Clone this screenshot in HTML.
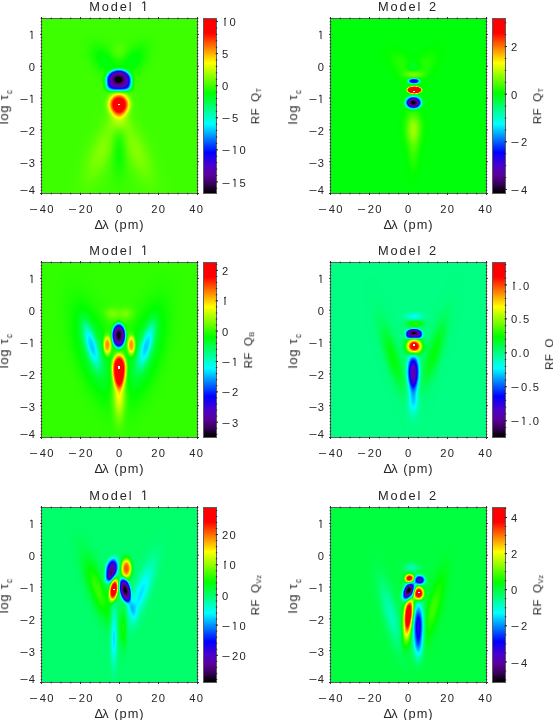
<!DOCTYPE html>
<html><head><meta charset="utf-8"><style>
html,body{margin:0;padding:0;background:#fff;}
body{width:553px;height:720px;overflow:hidden;position:relative;font-family:"Liberation Sans",sans-serif;}
.t{position:absolute;white-space:nowrap;color:#262626;will-change:transform;}
.rot{transform:rotate(-90deg) translate(-50%,-84.65%);transform-origin:0 0;}
sub{font-size:66%;vertical-align:baseline;position:relative;top:0.42em;letter-spacing:0.3px;}
sub.s2{font-size:62%;top:0.3em;}
.one{display:inline-block;width:0.556em;text-align:center;letter-spacing:0;margin-right:1.3px;position:relative;}
.one::before{content:'';position:absolute;left:calc(50% - 0.14em);top:0.11em;width:0.2em;height:0.075em;background:currentColor;transform:rotate(-38deg);}
.mi{display:inline-block;transform:scaleX(1.3);margin:0 1.6px 0 0.5px;}
.rot{line-height:1;}
.mi2{margin-right:0.3px;}
canvas{position:absolute;}
.cb{position:absolute;width:14px;height:176px;}
svg{position:absolute;left:0;top:0;}
#w{position:absolute;left:0;top:0;width:553px;height:720px;filter:blur(0.35px);}
</style></head><body><div id="w">
<svg class="fb" width="553" height="720"><defs><clipPath id="k0"><rect x="42" y="19" width="155" height="174"/></clipPath><radialGradient id="g0"><stop offset="0.000" stop-color="rgb(94, 255, 0)" stop-opacity="0.73"/><stop offset="0.083" stop-color="rgb(94, 255, 0)" stop-opacity="0.72"/><stop offset="0.167" stop-color="rgb(91, 255, 0)" stop-opacity="0.67"/><stop offset="0.250" stop-color="rgb(88, 255, 0)" stop-opacity="0.59"/><stop offset="0.333" stop-color="rgb(84, 255, 0)" stop-opacity="0.50"/><stop offset="0.417" stop-color="rgb(80, 255, 0)" stop-opacity="0.41"/><stop offset="0.500" stop-color="rgb(76, 255, 0)" stop-opacity="0.31"/><stop offset="0.583" stop-color="rgb(72, 255, 0)" stop-opacity="0.23"/><stop offset="0.667" stop-color="rgb(69, 255, 0)" stop-opacity="0.16"/><stop offset="0.750" stop-color="rgb(67, 255, 0)" stop-opacity="0.11"/><stop offset="0.833" stop-color="rgb(65, 255, 0)" stop-opacity="0.07"/><stop offset="0.917" stop-color="rgb(64, 255, 0)" stop-opacity="0.04"/><stop offset="1.000" stop-color="rgb(63, 255, 0)" stop-opacity="0.02"/></radialGradient><radialGradient id="g1"><stop offset="0.000" stop-color="rgb(116, 255, 0)" stop-opacity="1.00"/><stop offset="0.083" stop-color="rgb(115, 255, 0)" stop-opacity="1.00"/><stop offset="0.167" stop-color="rgb(111, 255, 0)" stop-opacity="1.00"/><stop offset="0.250" stop-color="rgb(106, 255, 0)" stop-opacity="0.99"/><stop offset="0.333" stop-color="rgb(99, 255, 0)" stop-opacity="0.84"/><stop offset="0.417" stop-color="rgb(92, 255, 0)" stop-opacity="0.68"/><stop offset="0.500" stop-color="rgb(85, 255, 0)" stop-opacity="0.52"/><stop offset="0.583" stop-color="rgb(79, 255, 0)" stop-opacity="0.39"/><stop offset="0.667" stop-color="rgb(74, 255, 0)" stop-opacity="0.27"/><stop offset="0.750" stop-color="rgb(70, 255, 0)" stop-opacity="0.18"/><stop offset="0.833" stop-color="rgb(67, 255, 0)" stop-opacity="0.12"/><stop offset="0.917" stop-color="rgb(65, 255, 0)" stop-opacity="0.07"/><stop offset="1.000" stop-color="rgb(64, 255, 0)" stop-opacity="0.04"/></radialGradient><radialGradient id="g2"><stop offset="0.000" stop-color="rgb(132, 255, 0)" stop-opacity="1.00"/><stop offset="0.083" stop-color="rgb(131, 255, 0)" stop-opacity="1.00"/><stop offset="0.167" stop-color="rgb(126, 255, 0)" stop-opacity="1.00"/><stop offset="0.250" stop-color="rgb(119, 255, 0)" stop-opacity="1.00"/><stop offset="0.333" stop-color="rgb(110, 255, 0)" stop-opacity="1.00"/><stop offset="0.417" stop-color="rgb(101, 255, 0)" stop-opacity="0.88"/><stop offset="0.500" stop-color="rgb(92, 255, 0)" stop-opacity="0.68"/><stop offset="0.583" stop-color="rgb(84, 255, 0)" stop-opacity="0.50"/><stop offset="0.667" stop-color="rgb(77, 255, 0)" stop-opacity="0.35"/><stop offset="0.750" stop-color="rgb(72, 255, 0)" stop-opacity="0.24"/><stop offset="0.833" stop-color="rgb(68, 255, 0)" stop-opacity="0.15"/><stop offset="0.917" stop-color="rgb(66, 255, 0)" stop-opacity="0.09"/><stop offset="1.000" stop-color="rgb(64, 255, 0)" stop-opacity="0.05"/></radialGradient><radialGradient id="g3"><stop offset="0.000" stop-color="rgb(132, 255, 0)" stop-opacity="1.00"/><stop offset="0.083" stop-color="rgb(131, 255, 0)" stop-opacity="1.00"/><stop offset="0.167" stop-color="rgb(126, 255, 0)" stop-opacity="1.00"/><stop offset="0.250" stop-color="rgb(119, 255, 0)" stop-opacity="1.00"/><stop offset="0.333" stop-color="rgb(110, 255, 0)" stop-opacity="1.00"/><stop offset="0.417" stop-color="rgb(101, 255, 0)" stop-opacity="0.88"/><stop offset="0.500" stop-color="rgb(92, 255, 0)" stop-opacity="0.68"/><stop offset="0.583" stop-color="rgb(84, 255, 0)" stop-opacity="0.50"/><stop offset="0.667" stop-color="rgb(77, 255, 0)" stop-opacity="0.35"/><stop offset="0.750" stop-color="rgb(72, 255, 0)" stop-opacity="0.24"/><stop offset="0.833" stop-color="rgb(68, 255, 0)" stop-opacity="0.15"/><stop offset="0.917" stop-color="rgb(66, 255, 0)" stop-opacity="0.09"/><stop offset="1.000" stop-color="rgb(64, 255, 0)" stop-opacity="0.05"/></radialGradient><radialGradient id="g4"><stop offset="0.000" stop-color="rgb(0, 255, 9)" stop-opacity="1.00"/><stop offset="0.083" stop-color="rgb(0, 255, 7)" stop-opacity="1.00"/><stop offset="0.167" stop-color="rgb(0, 255, 2)" stop-opacity="1.00"/><stop offset="0.250" stop-color="rgb(5, 255, 0)" stop-opacity="1.00"/><stop offset="0.333" stop-color="rgb(13, 255, 0)" stop-opacity="1.00"/><stop offset="0.417" stop-color="rgb(22, 255, 0)" stop-opacity="0.88"/><stop offset="0.500" stop-color="rgb(31, 255, 0)" stop-opacity="0.68"/><stop offset="0.583" stop-color="rgb(39, 255, 0)" stop-opacity="0.50"/><stop offset="0.667" stop-color="rgb(46, 255, 0)" stop-opacity="0.35"/><stop offset="0.750" stop-color="rgb(51, 255, 0)" stop-opacity="0.24"/><stop offset="0.833" stop-color="rgb(55, 255, 0)" stop-opacity="0.15"/><stop offset="0.917" stop-color="rgb(58, 255, 0)" stop-opacity="0.09"/><stop offset="1.000" stop-color="rgb(59, 255, 0)" stop-opacity="0.05"/></radialGradient><radialGradient id="g5"><stop offset="0.000" stop-color="rgb(0, 255, 14)" stop-opacity="1.00"/><stop offset="0.083" stop-color="rgb(0, 255, 12)" stop-opacity="1.00"/><stop offset="0.167" stop-color="rgb(0, 255, 7)" stop-opacity="1.00"/><stop offset="0.250" stop-color="rgb(0, 255, 0)" stop-opacity="1.00"/><stop offset="0.333" stop-color="rgb(10, 255, 0)" stop-opacity="1.00"/><stop offset="0.417" stop-color="rgb(19, 255, 0)" stop-opacity="0.95"/><stop offset="0.500" stop-color="rgb(29, 255, 0)" stop-opacity="0.73"/><stop offset="0.583" stop-color="rgb(38, 255, 0)" stop-opacity="0.54"/><stop offset="0.667" stop-color="rgb(45, 255, 0)" stop-opacity="0.38"/><stop offset="0.750" stop-color="rgb(50, 255, 0)" stop-opacity="0.26"/><stop offset="0.833" stop-color="rgb(54, 255, 0)" stop-opacity="0.16"/><stop offset="0.917" stop-color="rgb(57, 255, 0)" stop-opacity="0.10"/><stop offset="1.000" stop-color="rgb(59, 255, 0)" stop-opacity="0.06"/></radialGradient><radialGradient id="g6"><stop offset="0.000" stop-color="rgb(0, 255, 14)" stop-opacity="1.00"/><stop offset="0.083" stop-color="rgb(0, 255, 12)" stop-opacity="1.00"/><stop offset="0.167" stop-color="rgb(0, 255, 7)" stop-opacity="1.00"/><stop offset="0.250" stop-color="rgb(0, 255, 0)" stop-opacity="1.00"/><stop offset="0.333" stop-color="rgb(10, 255, 0)" stop-opacity="1.00"/><stop offset="0.417" stop-color="rgb(19, 255, 0)" stop-opacity="0.95"/><stop offset="0.500" stop-color="rgb(29, 255, 0)" stop-opacity="0.73"/><stop offset="0.583" stop-color="rgb(38, 255, 0)" stop-opacity="0.54"/><stop offset="0.667" stop-color="rgb(45, 255, 0)" stop-opacity="0.38"/><stop offset="0.750" stop-color="rgb(50, 255, 0)" stop-opacity="0.26"/><stop offset="0.833" stop-color="rgb(54, 255, 0)" stop-opacity="0.16"/><stop offset="0.917" stop-color="rgb(57, 255, 0)" stop-opacity="0.10"/><stop offset="1.000" stop-color="rgb(59, 255, 0)" stop-opacity="0.06"/></radialGradient><radialGradient id="g7"><stop offset="0.000" stop-color="rgb(143, 255, 0)" stop-opacity="1.00"/><stop offset="0.083" stop-color="rgb(141, 255, 0)" stop-opacity="1.00"/><stop offset="0.167" stop-color="rgb(136, 255, 0)" stop-opacity="1.00"/><stop offset="0.250" stop-color="rgb(128, 255, 0)" stop-opacity="1.00"/><stop offset="0.333" stop-color="rgb(118, 255, 0)" stop-opacity="1.00"/><stop offset="0.417" stop-color="rgb(107, 255, 0)" stop-opacity="1.00"/><stop offset="0.500" stop-color="rgb(97, 255, 0)" stop-opacity="0.79"/><stop offset="0.583" stop-color="rgb(87, 255, 0)" stop-opacity="0.58"/><stop offset="0.667" stop-color="rgb(80, 255, 0)" stop-opacity="0.41"/><stop offset="0.750" stop-color="rgb(74, 255, 0)" stop-opacity="0.27"/><stop offset="0.833" stop-color="rgb(69, 255, 0)" stop-opacity="0.18"/><stop offset="0.917" stop-color="rgb(66, 255, 0)" stop-opacity="0.11"/><stop offset="1.000" stop-color="rgb(64, 255, 0)" stop-opacity="0.06"/></radialGradient><radialGradient id="g8"><stop offset="0.000" stop-color="rgb(0, 255, 150)" stop-opacity="1.00"/><stop offset="0.083" stop-color="rgb(0, 255, 145)" stop-opacity="1.00"/><stop offset="0.167" stop-color="rgb(0, 255, 131)" stop-opacity="1.00"/><stop offset="0.250" stop-color="rgb(0, 255, 110)" stop-opacity="1.00"/><stop offset="0.333" stop-color="rgb(0, 255, 85)" stop-opacity="1.00"/><stop offset="0.417" stop-color="rgb(0, 255, 57)" stop-opacity="1.00"/><stop offset="0.500" stop-color="rgb(0, 255, 31)" stop-opacity="1.00"/><stop offset="0.583" stop-color="rgb(0, 255, 7)" stop-opacity="1.00"/><stop offset="0.667" stop-color="rgb(13, 255, 0)" stop-opacity="1.00"/><stop offset="0.750" stop-color="rgb(29, 255, 0)" stop-opacity="0.73"/><stop offset="0.833" stop-color="rgb(41, 255, 0)" stop-opacity="0.47"/><stop offset="0.917" stop-color="rgb(49, 255, 0)" stop-opacity="0.29"/><stop offset="1.000" stop-color="rgb(54, 255, 0)" stop-opacity="0.17"/></radialGradient><radialGradient id="g9"><stop offset="0.000" stop-color="rgb(255, 0, 0)" stop-opacity="1.00"/><stop offset="0.083" stop-color="rgb(255, 0, 0)" stop-opacity="1.00"/><stop offset="0.167" stop-color="rgb(255, 0, 0)" stop-opacity="1.00"/><stop offset="0.250" stop-color="rgb(255, 0, 0)" stop-opacity="1.00"/><stop offset="0.333" stop-color="rgb(255, 33, 0)" stop-opacity="1.00"/><stop offset="0.417" stop-color="rgb(255, 142, 0)" stop-opacity="1.00"/><stop offset="0.500" stop-color="rgb(255, 254, 0)" stop-opacity="1.00"/><stop offset="0.583" stop-color="rgb(166, 255, 0)" stop-opacity="1.00"/><stop offset="0.667" stop-color="rgb(108, 255, 0)" stop-opacity="0.93"/><stop offset="0.750" stop-color="rgb(79, 255, 0)" stop-opacity="0.31"/><stop offset="0.833" stop-color="rgb(68, 255, 0)" stop-opacity="0.08"/><stop offset="0.917" stop-color="rgb(64, 255, 0)" stop-opacity="0.01"/><stop offset="1.000" stop-color="rgb(63, 255, 0)" stop-opacity="0.00"/></radialGradient><radialGradient id="g10"><stop offset="0.000" stop-color="rgb(0, 0, 0)" stop-opacity="1.00"/><stop offset="0.083" stop-color="rgb(4, 0, 6)" stop-opacity="1.00"/><stop offset="0.167" stop-color="rgb(63, 0, 105)" stop-opacity="1.00"/><stop offset="0.250" stop-color="rgb(85, 0, 172)" stop-opacity="1.00"/><stop offset="0.333" stop-color="rgb(20, 0, 242)" stop-opacity="1.00"/><stop offset="0.417" stop-color="rgb(0, 250, 255)" stop-opacity="1.00"/><stop offset="0.500" stop-color="rgb(0, 255, 12)" stop-opacity="1.00"/><stop offset="0.583" stop-color="rgb(52, 255, 0)" stop-opacity="0.04"/><stop offset="0.667" stop-color="rgb(57, 255, 0)" stop-opacity="0.00"/><stop offset="0.750" stop-color="rgb(59, 255, 0)" stop-opacity="0.00"/><stop offset="0.833" stop-color="rgb(60, 255, 0)" stop-opacity="0.00"/><stop offset="0.917" stop-color="rgb(61, 255, 0)" stop-opacity="0.00"/><stop offset="1.000" stop-color="rgb(61, 255, 0)" stop-opacity="0.00"/></radialGradient><clipPath id="k1"><rect x="331" y="19" width="155" height="174"/></clipPath><radialGradient id="g11"><stop offset="0.000" stop-color="rgb(40, 255, 0)" stop-opacity="1.00"/><stop offset="0.083" stop-color="rgb(39, 255, 0)" stop-opacity="1.00"/><stop offset="0.167" stop-color="rgb(35, 255, 0)" stop-opacity="1.00"/><stop offset="0.250" stop-color="rgb(30, 255, 0)" stop-opacity="0.92"/><stop offset="0.333" stop-color="rgb(24, 255, 0)" stop-opacity="0.78"/><stop offset="0.417" stop-color="rgb(18, 255, 0)" stop-opacity="0.63"/><stop offset="0.500" stop-color="rgb(11, 255, 0)" stop-opacity="0.49"/><stop offset="0.583" stop-color="rgb(5, 255, 0)" stop-opacity="0.36"/><stop offset="0.667" stop-color="rgb(1, 255, 0)" stop-opacity="0.25"/><stop offset="0.750" stop-color="rgb(0, 255, 3)" stop-opacity="0.17"/><stop offset="0.833" stop-color="rgb(0, 255, 5)" stop-opacity="0.11"/><stop offset="0.917" stop-color="rgb(0, 255, 7)" stop-opacity="0.07"/><stop offset="1.000" stop-color="rgb(0, 255, 8)" stop-opacity="0.04"/></radialGradient><radialGradient id="g12"><stop offset="0.000" stop-color="rgb(40, 255, 0)" stop-opacity="1.00"/><stop offset="0.083" stop-color="rgb(39, 255, 0)" stop-opacity="1.00"/><stop offset="0.167" stop-color="rgb(35, 255, 0)" stop-opacity="1.00"/><stop offset="0.250" stop-color="rgb(30, 255, 0)" stop-opacity="0.92"/><stop offset="0.333" stop-color="rgb(24, 255, 0)" stop-opacity="0.78"/><stop offset="0.417" stop-color="rgb(18, 255, 0)" stop-opacity="0.63"/><stop offset="0.500" stop-color="rgb(11, 255, 0)" stop-opacity="0.49"/><stop offset="0.583" stop-color="rgb(5, 255, 0)" stop-opacity="0.36"/><stop offset="0.667" stop-color="rgb(1, 255, 0)" stop-opacity="0.25"/><stop offset="0.750" stop-color="rgb(0, 255, 3)" stop-opacity="0.17"/><stop offset="0.833" stop-color="rgb(0, 255, 5)" stop-opacity="0.11"/><stop offset="0.917" stop-color="rgb(0, 255, 7)" stop-opacity="0.07"/><stop offset="1.000" stop-color="rgb(0, 255, 8)" stop-opacity="0.04"/></radialGradient><radialGradient id="g13"><stop offset="0.000" stop-color="rgb(50, 255, 0)" stop-opacity="1.00"/><stop offset="0.083" stop-color="rgb(49, 255, 0)" stop-opacity="1.00"/><stop offset="0.167" stop-color="rgb(45, 255, 0)" stop-opacity="1.00"/><stop offset="0.250" stop-color="rgb(38, 255, 0)" stop-opacity="1.00"/><stop offset="0.333" stop-color="rgb(31, 255, 0)" stop-opacity="0.93"/><stop offset="0.417" stop-color="rgb(23, 255, 0)" stop-opacity="0.76"/><stop offset="0.500" stop-color="rgb(15, 255, 0)" stop-opacity="0.58"/><stop offset="0.583" stop-color="rgb(9, 255, 0)" stop-opacity="0.43"/><stop offset="0.667" stop-color="rgb(3, 255, 0)" stop-opacity="0.30"/><stop offset="0.750" stop-color="rgb(0, 255, 1)" stop-opacity="0.20"/><stop offset="0.833" stop-color="rgb(0, 255, 5)" stop-opacity="0.13"/><stop offset="0.917" stop-color="rgb(0, 255, 7)" stop-opacity="0.08"/><stop offset="1.000" stop-color="rgb(0, 255, 8)" stop-opacity="0.05"/></radialGradient><radialGradient id="g14"><stop offset="0.000" stop-color="rgb(0, 255, 78)" stop-opacity="1.00"/><stop offset="0.083" stop-color="rgb(0, 255, 77)" stop-opacity="1.00"/><stop offset="0.167" stop-color="rgb(0, 255, 72)" stop-opacity="1.00"/><stop offset="0.250" stop-color="rgb(0, 255, 65)" stop-opacity="1.00"/><stop offset="0.333" stop-color="rgb(0, 255, 57)" stop-opacity="1.00"/><stop offset="0.417" stop-color="rgb(0, 255, 48)" stop-opacity="0.88"/><stop offset="0.500" stop-color="rgb(0, 255, 39)" stop-opacity="0.68"/><stop offset="0.583" stop-color="rgb(0, 255, 32)" stop-opacity="0.50"/><stop offset="0.667" stop-color="rgb(0, 255, 25)" stop-opacity="0.35"/><stop offset="0.750" stop-color="rgb(0, 255, 20)" stop-opacity="0.24"/><stop offset="0.833" stop-color="rgb(0, 255, 17)" stop-opacity="0.15"/><stop offset="0.917" stop-color="rgb(0, 255, 14)" stop-opacity="0.09"/><stop offset="1.000" stop-color="rgb(0, 255, 12)" stop-opacity="0.05"/></radialGradient><radialGradient id="g15"><stop offset="0.000" stop-color="rgb(70, 255, 0)" stop-opacity="1.00"/><stop offset="0.083" stop-color="rgb(68, 255, 0)" stop-opacity="1.00"/><stop offset="0.167" stop-color="rgb(63, 255, 0)" stop-opacity="1.00"/><stop offset="0.250" stop-color="rgb(55, 255, 0)" stop-opacity="1.00"/><stop offset="0.333" stop-color="rgb(45, 255, 0)" stop-opacity="1.00"/><stop offset="0.417" stop-color="rgb(34, 255, 0)" stop-opacity="1.00"/><stop offset="0.500" stop-color="rgb(24, 255, 0)" stop-opacity="0.78"/><stop offset="0.583" stop-color="rgb(15, 255, 0)" stop-opacity="0.57"/><stop offset="0.667" stop-color="rgb(7, 255, 0)" stop-opacity="0.40"/><stop offset="0.750" stop-color="rgb(2, 255, 0)" stop-opacity="0.27"/><stop offset="0.833" stop-color="rgb(0, 255, 3)" stop-opacity="0.17"/><stop offset="0.917" stop-color="rgb(0, 255, 6)" stop-opacity="0.11"/><stop offset="1.000" stop-color="rgb(0, 255, 7)" stop-opacity="0.06"/></radialGradient><radialGradient id="g16"><stop offset="0.000" stop-color="rgb(141, 255, 0)" stop-opacity="1.00"/><stop offset="0.083" stop-color="rgb(137, 255, 0)" stop-opacity="1.00"/><stop offset="0.167" stop-color="rgb(127, 255, 0)" stop-opacity="1.00"/><stop offset="0.250" stop-color="rgb(112, 255, 0)" stop-opacity="1.00"/><stop offset="0.333" stop-color="rgb(93, 255, 0)" stop-opacity="1.00"/><stop offset="0.417" stop-color="rgb(74, 255, 0)" stop-opacity="1.00"/><stop offset="0.500" stop-color="rgb(54, 255, 0)" stop-opacity="1.00"/><stop offset="0.583" stop-color="rgb(37, 255, 0)" stop-opacity="1.00"/><stop offset="0.667" stop-color="rgb(23, 255, 0)" stop-opacity="0.76"/><stop offset="0.750" stop-color="rgb(12, 255, 0)" stop-opacity="0.51"/><stop offset="0.833" stop-color="rgb(4, 255, 0)" stop-opacity="0.32"/><stop offset="0.917" stop-color="rgb(0, 255, 2)" stop-opacity="0.20"/><stop offset="1.000" stop-color="rgb(0, 255, 5)" stop-opacity="0.12"/></radialGradient><radialGradient id="g17"><stop offset="0.000" stop-color="rgb(0, 255, 156)" stop-opacity="1.00"/><stop offset="0.083" stop-color="rgb(0, 255, 153)" stop-opacity="1.00"/><stop offset="0.167" stop-color="rgb(0, 255, 143)" stop-opacity="1.00"/><stop offset="0.250" stop-color="rgb(0, 255, 128)" stop-opacity="1.00"/><stop offset="0.333" stop-color="rgb(0, 255, 110)" stop-opacity="1.00"/><stop offset="0.417" stop-color="rgb(0, 255, 91)" stop-opacity="1.00"/><stop offset="0.500" stop-color="rgb(0, 255, 73)" stop-opacity="1.00"/><stop offset="0.583" stop-color="rgb(0, 255, 56)" stop-opacity="1.00"/><stop offset="0.667" stop-color="rgb(0, 255, 43)" stop-opacity="0.76"/><stop offset="0.750" stop-color="rgb(0, 255, 32)" stop-opacity="0.51"/><stop offset="0.833" stop-color="rgb(0, 255, 24)" stop-opacity="0.32"/><stop offset="0.917" stop-color="rgb(0, 255, 19)" stop-opacity="0.20"/><stop offset="1.000" stop-color="rgb(0, 255, 15)" stop-opacity="0.12"/></radialGradient><radialGradient id="g18"><stop offset="0.000" stop-color="rgb(27, 0, 237)" stop-opacity="1.00"/><stop offset="0.083" stop-color="rgb(27, 0, 237)" stop-opacity="1.00"/><stop offset="0.167" stop-color="rgb(21, 0, 241)" stop-opacity="1.00"/><stop offset="0.250" stop-color="rgb(0, 6, 255)" stop-opacity="1.00"/><stop offset="0.333" stop-color="rgb(0, 100, 255)" stop-opacity="1.00"/><stop offset="0.417" stop-color="rgb(0, 249, 255)" stop-opacity="1.00"/><stop offset="0.500" stop-color="rgb(0, 255, 120)" stop-opacity="1.00"/><stop offset="0.583" stop-color="rgb(0, 255, 31)" stop-opacity="0.90"/><stop offset="0.667" stop-color="rgb(0, 255, 1)" stop-opacity="0.14"/><stop offset="0.750" stop-color="rgb(3, 255, 0)" stop-opacity="0.01"/><stop offset="0.833" stop-color="rgb(1, 255, 0)" stop-opacity="0.00"/><stop offset="0.917" stop-color="rgb(0, 255, 1)" stop-opacity="0.00"/><stop offset="1.000" stop-color="rgb(0, 255, 3)" stop-opacity="0.00"/></radialGradient><radialGradient id="g19"><stop offset="0.000" stop-color="rgb(255, 0, 0)" stop-opacity="1.00"/><stop offset="0.083" stop-color="rgb(255, 0, 0)" stop-opacity="1.00"/><stop offset="0.167" stop-color="rgb(255, 0, 0)" stop-opacity="1.00"/><stop offset="0.250" stop-color="rgb(255, 0, 0)" stop-opacity="1.00"/><stop offset="0.333" stop-color="rgb(255, 0, 0)" stop-opacity="1.00"/><stop offset="0.417" stop-color="rgb(250, 255, 0)" stop-opacity="1.00"/><stop offset="0.500" stop-color="rgb(4, 255, 0)" stop-opacity="0.25"/><stop offset="0.583" stop-color="rgb(0, 255, 8)" stop-opacity="0.00"/><stop offset="0.667" stop-color="rgb(0, 255, 9)" stop-opacity="0.00"/><stop offset="0.750" stop-color="rgb(0, 255, 9)" stop-opacity="0.00"/><stop offset="0.833" stop-color="rgb(0, 255, 9)" stop-opacity="0.00"/><stop offset="0.917" stop-color="rgb(0, 255, 10)" stop-opacity="0.00"/><stop offset="1.000" stop-color="rgb(0, 255, 10)" stop-opacity="0.00"/></radialGradient><radialGradient id="g20"><stop offset="0.000" stop-color="rgb(0, 0, 0)" stop-opacity="1.00"/><stop offset="0.083" stop-color="rgb(12, 0, 20)" stop-opacity="1.00"/><stop offset="0.167" stop-color="rgb(61, 0, 101)" stop-opacity="1.00"/><stop offset="0.250" stop-color="rgb(85, 0, 172)" stop-opacity="1.00"/><stop offset="0.333" stop-color="rgb(25, 0, 238)" stop-opacity="1.00"/><stop offset="0.417" stop-color="rgb(0, 152, 255)" stop-opacity="1.00"/><stop offset="0.500" stop-color="rgb(0, 255, 170)" stop-opacity="1.00"/><stop offset="0.583" stop-color="rgb(0, 255, 56)" stop-opacity="1.00"/><stop offset="0.667" stop-color="rgb(0, 255, 16)" stop-opacity="0.17"/><stop offset="0.750" stop-color="rgb(0, 255, 10)" stop-opacity="0.01"/><stop offset="0.833" stop-color="rgb(0, 255, 10)" stop-opacity="0.00"/><stop offset="0.917" stop-color="rgb(0, 255, 10)" stop-opacity="0.00"/><stop offset="1.000" stop-color="rgb(0, 255, 10)" stop-opacity="0.00"/></radialGradient><clipPath id="k2"><rect x="42" y="263" width="155" height="174"/></clipPath><radialGradient id="g21"><stop offset="0.000" stop-color="rgb(121, 255, 0)" stop-opacity="1.00"/><stop offset="0.083" stop-color="rgb(120, 255, 0)" stop-opacity="1.00"/><stop offset="0.167" stop-color="rgb(115, 255, 0)" stop-opacity="1.00"/><stop offset="0.250" stop-color="rgb(108, 255, 0)" stop-opacity="1.00"/><stop offset="0.333" stop-color="rgb(99, 255, 0)" stop-opacity="1.00"/><stop offset="0.417" stop-color="rgb(89, 255, 0)" stop-opacity="0.90"/><stop offset="0.500" stop-color="rgb(80, 255, 0)" stop-opacity="0.69"/><stop offset="0.583" stop-color="rgb(72, 255, 0)" stop-opacity="0.51"/><stop offset="0.667" stop-color="rgb(65, 255, 0)" stop-opacity="0.36"/><stop offset="0.750" stop-color="rgb(60, 255, 0)" stop-opacity="0.24"/><stop offset="0.833" stop-color="rgb(56, 255, 0)" stop-opacity="0.15"/><stop offset="0.917" stop-color="rgb(54, 255, 0)" stop-opacity="0.09"/><stop offset="1.000" stop-color="rgb(52, 255, 0)" stop-opacity="0.06"/></radialGradient><radialGradient id="g22"><stop offset="0.000" stop-color="rgb(121, 255, 0)" stop-opacity="1.00"/><stop offset="0.083" stop-color="rgb(120, 255, 0)" stop-opacity="1.00"/><stop offset="0.167" stop-color="rgb(115, 255, 0)" stop-opacity="1.00"/><stop offset="0.250" stop-color="rgb(108, 255, 0)" stop-opacity="1.00"/><stop offset="0.333" stop-color="rgb(99, 255, 0)" stop-opacity="1.00"/><stop offset="0.417" stop-color="rgb(89, 255, 0)" stop-opacity="0.90"/><stop offset="0.500" stop-color="rgb(80, 255, 0)" stop-opacity="0.69"/><stop offset="0.583" stop-color="rgb(72, 255, 0)" stop-opacity="0.51"/><stop offset="0.667" stop-color="rgb(65, 255, 0)" stop-opacity="0.36"/><stop offset="0.750" stop-color="rgb(60, 255, 0)" stop-opacity="0.24"/><stop offset="0.833" stop-color="rgb(56, 255, 0)" stop-opacity="0.15"/><stop offset="0.917" stop-color="rgb(54, 255, 0)" stop-opacity="0.09"/><stop offset="1.000" stop-color="rgb(52, 255, 0)" stop-opacity="0.06"/></radialGradient><radialGradient id="g23"><stop offset="0.000" stop-color="rgb(126, 255, 0)" stop-opacity="1.00"/><stop offset="0.083" stop-color="rgb(125, 255, 0)" stop-opacity="1.00"/><stop offset="0.167" stop-color="rgb(120, 255, 0)" stop-opacity="1.00"/><stop offset="0.250" stop-color="rgb(112, 255, 0)" stop-opacity="1.00"/><stop offset="0.333" stop-color="rgb(102, 255, 0)" stop-opacity="1.00"/><stop offset="0.417" stop-color="rgb(92, 255, 0)" stop-opacity="0.96"/><stop offset="0.500" stop-color="rgb(83, 255, 0)" stop-opacity="0.74"/><stop offset="0.583" stop-color="rgb(74, 255, 0)" stop-opacity="0.55"/><stop offset="0.667" stop-color="rgb(67, 255, 0)" stop-opacity="0.39"/><stop offset="0.750" stop-color="rgb(61, 255, 0)" stop-opacity="0.26"/><stop offset="0.833" stop-color="rgb(57, 255, 0)" stop-opacity="0.17"/><stop offset="0.917" stop-color="rgb(54, 255, 0)" stop-opacity="0.10"/><stop offset="1.000" stop-color="rgb(52, 255, 0)" stop-opacity="0.06"/></radialGradient><radialGradient id="g24"><stop offset="0.000" stop-color="rgb(0, 255, 76)" stop-opacity="1.00"/><stop offset="0.083" stop-color="rgb(0, 255, 74)" stop-opacity="1.00"/><stop offset="0.167" stop-color="rgb(0, 255, 65)" stop-opacity="1.00"/><stop offset="0.250" stop-color="rgb(0, 255, 53)" stop-opacity="1.00"/><stop offset="0.333" stop-color="rgb(0, 255, 38)" stop-opacity="1.00"/><stop offset="0.417" stop-color="rgb(0, 255, 21)" stop-opacity="1.00"/><stop offset="0.500" stop-color="rgb(0, 255, 6)" stop-opacity="1.00"/><stop offset="0.583" stop-color="rgb(9, 255, 0)" stop-opacity="0.91"/><stop offset="0.667" stop-color="rgb(21, 255, 0)" stop-opacity="0.64"/><stop offset="0.750" stop-color="rgb(30, 255, 0)" stop-opacity="0.43"/><stop offset="0.833" stop-color="rgb(37, 255, 0)" stop-opacity="0.28"/><stop offset="0.917" stop-color="rgb(42, 255, 0)" stop-opacity="0.17"/><stop offset="1.000" stop-color="rgb(45, 255, 0)" stop-opacity="0.10"/></radialGradient><radialGradient id="g25"><stop offset="0.000" stop-color="rgb(0, 255, 76)" stop-opacity="1.00"/><stop offset="0.083" stop-color="rgb(0, 255, 74)" stop-opacity="1.00"/><stop offset="0.167" stop-color="rgb(0, 255, 65)" stop-opacity="1.00"/><stop offset="0.250" stop-color="rgb(0, 255, 53)" stop-opacity="1.00"/><stop offset="0.333" stop-color="rgb(0, 255, 38)" stop-opacity="1.00"/><stop offset="0.417" stop-color="rgb(0, 255, 21)" stop-opacity="1.00"/><stop offset="0.500" stop-color="rgb(0, 255, 6)" stop-opacity="1.00"/><stop offset="0.583" stop-color="rgb(9, 255, 0)" stop-opacity="0.91"/><stop offset="0.667" stop-color="rgb(21, 255, 0)" stop-opacity="0.64"/><stop offset="0.750" stop-color="rgb(30, 255, 0)" stop-opacity="0.43"/><stop offset="0.833" stop-color="rgb(37, 255, 0)" stop-opacity="0.28"/><stop offset="0.917" stop-color="rgb(42, 255, 0)" stop-opacity="0.17"/><stop offset="1.000" stop-color="rgb(45, 255, 0)" stop-opacity="0.10"/></radialGradient><radialGradient id="g26"><stop offset="0.000" stop-color="rgb(0, 255, 161)" stop-opacity="1.00"/><stop offset="0.083" stop-color="rgb(0, 255, 156)" stop-opacity="1.00"/><stop offset="0.167" stop-color="rgb(0, 255, 142)" stop-opacity="1.00"/><stop offset="0.250" stop-color="rgb(0, 255, 121)" stop-opacity="1.00"/><stop offset="0.333" stop-color="rgb(0, 255, 96)" stop-opacity="1.00"/><stop offset="0.417" stop-color="rgb(0, 255, 68)" stop-opacity="1.00"/><stop offset="0.500" stop-color="rgb(0, 255, 42)" stop-opacity="1.00"/><stop offset="0.583" stop-color="rgb(0, 255, 18)" stop-opacity="1.00"/><stop offset="0.667" stop-color="rgb(1, 255, 0)" stop-opacity="1.00"/><stop offset="0.750" stop-color="rgb(17, 255, 0)" stop-opacity="0.72"/><stop offset="0.833" stop-color="rgb(29, 255, 0)" stop-opacity="0.46"/><stop offset="0.917" stop-color="rgb(37, 255, 0)" stop-opacity="0.28"/><stop offset="1.000" stop-color="rgb(42, 255, 0)" stop-opacity="0.17"/></radialGradient><radialGradient id="g27"><stop offset="0.000" stop-color="rgb(255, 229, 0)" stop-opacity="1.00"/><stop offset="0.083" stop-color="rgb(255, 235, 0)" stop-opacity="1.00"/><stop offset="0.167" stop-color="rgb(255, 250, 0)" stop-opacity="1.00"/><stop offset="0.250" stop-color="rgb(237, 255, 0)" stop-opacity="1.00"/><stop offset="0.333" stop-color="rgb(208, 255, 0)" stop-opacity="1.00"/><stop offset="0.417" stop-color="rgb(178, 255, 0)" stop-opacity="1.00"/><stop offset="0.500" stop-color="rgb(149, 255, 0)" stop-opacity="1.00"/><stop offset="0.583" stop-color="rgb(123, 255, 0)" stop-opacity="1.00"/><stop offset="0.667" stop-color="rgb(101, 255, 0)" stop-opacity="1.00"/><stop offset="0.750" stop-color="rgb(84, 255, 0)" stop-opacity="0.78"/><stop offset="0.833" stop-color="rgb(72, 255, 0)" stop-opacity="0.50"/><stop offset="0.917" stop-color="rgb(63, 255, 0)" stop-opacity="0.30"/><stop offset="1.000" stop-color="rgb(57, 255, 0)" stop-opacity="0.18"/></radialGradient><radialGradient id="g28"><stop offset="0.000" stop-color="rgb(0, 255, 181)" stop-opacity="1.00"/><stop offset="0.083" stop-color="rgb(0, 255, 178)" stop-opacity="1.00"/><stop offset="0.167" stop-color="rgb(0, 255, 167)" stop-opacity="1.00"/><stop offset="0.250" stop-color="rgb(0, 255, 145)" stop-opacity="1.00"/><stop offset="0.333" stop-color="rgb(0, 255, 113)" stop-opacity="1.00"/><stop offset="0.417" stop-color="rgb(0, 255, 76)" stop-opacity="1.00"/><stop offset="0.500" stop-color="rgb(0, 255, 39)" stop-opacity="1.00"/><stop offset="0.583" stop-color="rgb(0, 255, 8)" stop-opacity="1.00"/><stop offset="0.667" stop-color="rgb(17, 255, 0)" stop-opacity="0.74"/><stop offset="0.750" stop-color="rgb(33, 255, 0)" stop-opacity="0.37"/><stop offset="0.833" stop-color="rgb(42, 255, 0)" stop-opacity="0.17"/><stop offset="0.917" stop-color="rgb(46, 255, 0)" stop-opacity="0.07"/><stop offset="1.000" stop-color="rgb(48, 255, 0)" stop-opacity="0.02"/></radialGradient><radialGradient id="g29"><stop offset="0.000" stop-color="rgb(0, 255, 181)" stop-opacity="1.00"/><stop offset="0.083" stop-color="rgb(0, 255, 178)" stop-opacity="1.00"/><stop offset="0.167" stop-color="rgb(0, 255, 167)" stop-opacity="1.00"/><stop offset="0.250" stop-color="rgb(0, 255, 145)" stop-opacity="1.00"/><stop offset="0.333" stop-color="rgb(0, 255, 113)" stop-opacity="1.00"/><stop offset="0.417" stop-color="rgb(0, 255, 76)" stop-opacity="1.00"/><stop offset="0.500" stop-color="rgb(0, 255, 39)" stop-opacity="1.00"/><stop offset="0.583" stop-color="rgb(0, 255, 8)" stop-opacity="1.00"/><stop offset="0.667" stop-color="rgb(17, 255, 0)" stop-opacity="0.74"/><stop offset="0.750" stop-color="rgb(33, 255, 0)" stop-opacity="0.37"/><stop offset="0.833" stop-color="rgb(42, 255, 0)" stop-opacity="0.17"/><stop offset="0.917" stop-color="rgb(46, 255, 0)" stop-opacity="0.07"/><stop offset="1.000" stop-color="rgb(48, 255, 0)" stop-opacity="0.02"/></radialGradient><radialGradient id="g30"><stop offset="0.000" stop-color="rgb(255, 141, 0)" stop-opacity="1.00"/><stop offset="0.083" stop-color="rgb(255, 143, 0)" stop-opacity="1.00"/><stop offset="0.167" stop-color="rgb(255, 156, 0)" stop-opacity="1.00"/><stop offset="0.250" stop-color="rgb(255, 190, 0)" stop-opacity="1.00"/><stop offset="0.333" stop-color="rgb(255, 246, 0)" stop-opacity="1.00"/><stop offset="0.417" stop-color="rgb(191, 255, 0)" stop-opacity="1.00"/><stop offset="0.500" stop-color="rgb(116, 255, 0)" stop-opacity="1.00"/><stop offset="0.583" stop-color="rgb(53, 255, 0)" stop-opacity="1.00"/><stop offset="0.667" stop-color="rgb(2, 255, 0)" stop-opacity="0.62"/><stop offset="0.750" stop-color="rgb(0, 255, 40)" stop-opacity="0.21"/><stop offset="0.833" stop-color="rgb(0, 255, 85)" stop-opacity="0.05"/><stop offset="0.917" stop-color="rgb(0, 255, 134)" stop-opacity="0.01"/><stop offset="1.000" stop-color="rgb(0, 255, 182)" stop-opacity="0.00"/></radialGradient><radialGradient id="g31"><stop offset="0.000" stop-color="rgb(255, 145, 0)" stop-opacity="1.00"/><stop offset="0.083" stop-color="rgb(255, 147, 0)" stop-opacity="1.00"/><stop offset="0.167" stop-color="rgb(255, 161, 0)" stop-opacity="1.00"/><stop offset="0.250" stop-color="rgb(255, 194, 0)" stop-opacity="1.00"/><stop offset="0.333" stop-color="rgb(255, 251, 0)" stop-opacity="1.00"/><stop offset="0.417" stop-color="rgb(187, 255, 0)" stop-opacity="1.00"/><stop offset="0.500" stop-color="rgb(113, 255, 0)" stop-opacity="1.00"/><stop offset="0.583" stop-color="rgb(52, 255, 0)" stop-opacity="1.00"/><stop offset="0.667" stop-color="rgb(12, 255, 0)" stop-opacity="0.62"/><stop offset="0.750" stop-color="rgb(0, 255, 14)" stop-opacity="0.21"/><stop offset="0.833" stop-color="rgb(0, 255, 39)" stop-opacity="0.05"/><stop offset="0.917" stop-color="rgb(0, 255, 73)" stop-opacity="0.01"/><stop offset="1.000" stop-color="rgb(0, 255, 119)" stop-opacity="0.00"/></radialGradient><radialGradient id="g32"><stop offset="0.000" stop-color="rgb(255, 0, 0)" stop-opacity="1.00"/><stop offset="0.083" stop-color="rgb(255, 0, 0)" stop-opacity="1.00"/><stop offset="0.167" stop-color="rgb(255, 0, 0)" stop-opacity="1.00"/><stop offset="0.250" stop-color="rgb(255, 0, 0)" stop-opacity="1.00"/><stop offset="0.333" stop-color="rgb(255, 71, 0)" stop-opacity="1.00"/><stop offset="0.417" stop-color="rgb(255, 224, 0)" stop-opacity="1.00"/><stop offset="0.500" stop-color="rgb(128, 255, 0)" stop-opacity="1.00"/><stop offset="0.583" stop-color="rgb(24, 255, 0)" stop-opacity="0.90"/><stop offset="0.667" stop-color="rgb(0, 255, 18)" stop-opacity="0.14"/><stop offset="0.750" stop-color="rgb(0, 255, 32)" stop-opacity="0.01"/><stop offset="0.833" stop-color="rgb(0, 255, 41)" stop-opacity="0.00"/><stop offset="0.917" stop-color="rgb(0, 255, 51)" stop-opacity="0.00"/><stop offset="1.000" stop-color="rgb(0, 255, 65)" stop-opacity="0.00"/></radialGradient><radialGradient id="g33"><stop offset="0.000" stop-color="rgb(0, 0, 0)" stop-opacity="1.00"/><stop offset="0.083" stop-color="rgb(10, 0, 17)" stop-opacity="1.00"/><stop offset="0.167" stop-color="rgb(68, 0, 114)" stop-opacity="1.00"/><stop offset="0.250" stop-color="rgb(84, 0, 176)" stop-opacity="1.00"/><stop offset="0.333" stop-color="rgb(21, 0, 241)" stop-opacity="1.00"/><stop offset="0.417" stop-color="rgb(0, 241, 255)" stop-opacity="1.00"/><stop offset="0.500" stop-color="rgb(0, 255, 21)" stop-opacity="1.00"/><stop offset="0.583" stop-color="rgb(63, 255, 0)" stop-opacity="0.04"/><stop offset="0.667" stop-color="rgb(97, 255, 0)" stop-opacity="0.00"/><stop offset="0.750" stop-color="rgb(110, 255, 0)" stop-opacity="0.00"/><stop offset="0.833" stop-color="rgb(87, 255, 0)" stop-opacity="0.00"/><stop offset="0.917" stop-color="rgb(43, 255, 0)" stop-opacity="0.00"/><stop offset="1.000" stop-color="rgb(7, 255, 0)" stop-opacity="0.00"/></radialGradient><clipPath id="k3"><rect x="331" y="263" width="155" height="174"/></clipPath><radialGradient id="g34"><stop offset="0.000" stop-color="rgb(0, 255, 7)" stop-opacity="1.00"/><stop offset="0.083" stop-color="rgb(0, 255, 10)" stop-opacity="1.00"/><stop offset="0.167" stop-color="rgb(0, 255, 18)" stop-opacity="1.00"/><stop offset="0.250" stop-color="rgb(0, 255, 31)" stop-opacity="1.00"/><stop offset="0.333" stop-color="rgb(0, 255, 46)" stop-opacity="1.00"/><stop offset="0.417" stop-color="rgb(0, 255, 62)" stop-opacity="1.00"/><stop offset="0.500" stop-color="rgb(0, 255, 77)" stop-opacity="1.00"/><stop offset="0.583" stop-color="rgb(0, 255, 91)" stop-opacity="0.90"/><stop offset="0.667" stop-color="rgb(0, 255, 102)" stop-opacity="0.63"/><stop offset="0.750" stop-color="rgb(0, 255, 111)" stop-opacity="0.42"/><stop offset="0.833" stop-color="rgb(0, 255, 118)" stop-opacity="0.27"/><stop offset="0.917" stop-color="rgb(0, 255, 123)" stop-opacity="0.17"/><stop offset="1.000" stop-color="rgb(0, 255, 125)" stop-opacity="0.10"/></radialGradient><radialGradient id="g35"><stop offset="0.000" stop-color="rgb(0, 255, 7)" stop-opacity="1.00"/><stop offset="0.083" stop-color="rgb(0, 255, 10)" stop-opacity="1.00"/><stop offset="0.167" stop-color="rgb(0, 255, 18)" stop-opacity="1.00"/><stop offset="0.250" stop-color="rgb(0, 255, 31)" stop-opacity="1.00"/><stop offset="0.333" stop-color="rgb(0, 255, 46)" stop-opacity="1.00"/><stop offset="0.417" stop-color="rgb(0, 255, 62)" stop-opacity="1.00"/><stop offset="0.500" stop-color="rgb(0, 255, 77)" stop-opacity="1.00"/><stop offset="0.583" stop-color="rgb(0, 255, 91)" stop-opacity="0.90"/><stop offset="0.667" stop-color="rgb(0, 255, 102)" stop-opacity="0.63"/><stop offset="0.750" stop-color="rgb(0, 255, 111)" stop-opacity="0.42"/><stop offset="0.833" stop-color="rgb(0, 255, 118)" stop-opacity="0.27"/><stop offset="0.917" stop-color="rgb(0, 255, 123)" stop-opacity="0.17"/><stop offset="1.000" stop-color="rgb(0, 255, 125)" stop-opacity="0.10"/></radialGradient><radialGradient id="g36"><stop offset="0.000" stop-color="rgb(0, 255, 252)" stop-opacity="1.00"/><stop offset="0.083" stop-color="rgb(0, 255, 249)" stop-opacity="1.00"/><stop offset="0.167" stop-color="rgb(0, 255, 241)" stop-opacity="1.00"/><stop offset="0.250" stop-color="rgb(0, 255, 229)" stop-opacity="1.00"/><stop offset="0.333" stop-color="rgb(0, 255, 214)" stop-opacity="1.00"/><stop offset="0.417" stop-color="rgb(0, 255, 198)" stop-opacity="1.00"/><stop offset="0.500" stop-color="rgb(0, 255, 182)" stop-opacity="1.00"/><stop offset="0.583" stop-color="rgb(0, 255, 168)" stop-opacity="0.90"/><stop offset="0.667" stop-color="rgb(0, 255, 157)" stop-opacity="0.63"/><stop offset="0.750" stop-color="rgb(0, 255, 148)" stop-opacity="0.42"/><stop offset="0.833" stop-color="rgb(0, 255, 141)" stop-opacity="0.27"/><stop offset="0.917" stop-color="rgb(0, 255, 137)" stop-opacity="0.17"/><stop offset="1.000" stop-color="rgb(0, 255, 134)" stop-opacity="0.10"/></radialGradient><radialGradient id="g37"><stop offset="0.000" stop-color="rgb(38, 255, 0)" stop-opacity="1.00"/><stop offset="0.083" stop-color="rgb(34, 255, 0)" stop-opacity="1.00"/><stop offset="0.167" stop-color="rgb(23, 255, 0)" stop-opacity="1.00"/><stop offset="0.250" stop-color="rgb(5, 255, 0)" stop-opacity="1.00"/><stop offset="0.333" stop-color="rgb(0, 255, 15)" stop-opacity="1.00"/><stop offset="0.417" stop-color="rgb(0, 255, 37)" stop-opacity="1.00"/><stop offset="0.500" stop-color="rgb(0, 255, 58)" stop-opacity="1.00"/><stop offset="0.583" stop-color="rgb(0, 255, 77)" stop-opacity="1.00"/><stop offset="0.667" stop-color="rgb(0, 255, 93)" stop-opacity="0.86"/><stop offset="0.750" stop-color="rgb(0, 255, 105)" stop-opacity="0.58"/><stop offset="0.833" stop-color="rgb(0, 255, 114)" stop-opacity="0.37"/><stop offset="0.917" stop-color="rgb(0, 255, 120)" stop-opacity="0.23"/><stop offset="1.000" stop-color="rgb(0, 255, 124)" stop-opacity="0.13"/></radialGradient><radialGradient id="g38"><stop offset="0.000" stop-color="rgb(0, 210, 255)" stop-opacity="1.00"/><stop offset="0.083" stop-color="rgb(0, 214, 255)" stop-opacity="1.00"/><stop offset="0.167" stop-color="rgb(0, 226, 255)" stop-opacity="1.00"/><stop offset="0.250" stop-color="rgb(0, 245, 255)" stop-opacity="1.00"/><stop offset="0.333" stop-color="rgb(0, 255, 244)" stop-opacity="1.00"/><stop offset="0.417" stop-color="rgb(0, 255, 222)" stop-opacity="1.00"/><stop offset="0.500" stop-color="rgb(0, 255, 201)" stop-opacity="1.00"/><stop offset="0.583" stop-color="rgb(0, 255, 182)" stop-opacity="1.00"/><stop offset="0.667" stop-color="rgb(0, 255, 167)" stop-opacity="0.86"/><stop offset="0.750" stop-color="rgb(0, 255, 155)" stop-opacity="0.58"/><stop offset="0.833" stop-color="rgb(0, 255, 146)" stop-opacity="0.37"/><stop offset="0.917" stop-color="rgb(0, 255, 139)" stop-opacity="0.23"/><stop offset="1.000" stop-color="rgb(0, 255, 135)" stop-opacity="0.13"/></radialGradient><radialGradient id="g39"><stop offset="0.000" stop-color="rgb(0, 179, 255)" stop-opacity="1.00"/><stop offset="0.083" stop-color="rgb(0, 184, 255)" stop-opacity="1.00"/><stop offset="0.167" stop-color="rgb(0, 198, 255)" stop-opacity="1.00"/><stop offset="0.250" stop-color="rgb(0, 220, 255)" stop-opacity="1.00"/><stop offset="0.333" stop-color="rgb(0, 246, 255)" stop-opacity="1.00"/><stop offset="0.417" stop-color="rgb(0, 255, 238)" stop-opacity="1.00"/><stop offset="0.500" stop-color="rgb(0, 255, 213)" stop-opacity="1.00"/><stop offset="0.583" stop-color="rgb(0, 255, 191)" stop-opacity="1.00"/><stop offset="0.667" stop-color="rgb(0, 255, 173)" stop-opacity="1.00"/><stop offset="0.750" stop-color="rgb(0, 255, 159)" stop-opacity="0.68"/><stop offset="0.833" stop-color="rgb(0, 255, 148)" stop-opacity="0.43"/><stop offset="0.917" stop-color="rgb(0, 255, 141)" stop-opacity="0.26"/><stop offset="1.000" stop-color="rgb(0, 255, 136)" stop-opacity="0.15"/></radialGradient><radialGradient id="g40"><stop offset="0.000" stop-color="rgb(81, 0, 184)" stop-opacity="1.00"/><stop offset="0.083" stop-color="rgb(81, 0, 186)" stop-opacity="1.00"/><stop offset="0.167" stop-color="rgb(77, 0, 198)" stop-opacity="1.00"/><stop offset="0.250" stop-color="rgb(50, 0, 221)" stop-opacity="1.00"/><stop offset="0.333" stop-color="rgb(0, 6, 255)" stop-opacity="1.00"/><stop offset="0.417" stop-color="rgb(0, 115, 255)" stop-opacity="1.00"/><stop offset="0.500" stop-color="rgb(0, 228, 255)" stop-opacity="1.00"/><stop offset="0.583" stop-color="rgb(0, 255, 195)" stop-opacity="1.00"/><stop offset="0.667" stop-color="rgb(0, 255, 137)" stop-opacity="0.84"/><stop offset="0.750" stop-color="rgb(0, 255, 103)" stop-opacity="0.28"/><stop offset="0.833" stop-color="rgb(0, 255, 84)" stop-opacity="0.07"/><stop offset="0.917" stop-color="rgb(0, 255, 71)" stop-opacity="0.01"/><stop offset="1.000" stop-color="rgb(0, 255, 60)" stop-opacity="0.00"/></radialGradient><radialGradient id="g41"><stop offset="0.000" stop-color="rgb(16, 0, 27)" stop-opacity="1.00"/><stop offset="0.083" stop-color="rgb(33, 0, 54)" stop-opacity="1.00"/><stop offset="0.167" stop-color="rgb(65, 0, 109)" stop-opacity="1.00"/><stop offset="0.250" stop-color="rgb(88, 0, 161)" stop-opacity="1.00"/><stop offset="0.333" stop-color="rgb(50, 0, 222)" stop-opacity="1.00"/><stop offset="0.417" stop-color="rgb(0, 138, 255)" stop-opacity="1.00"/><stop offset="0.500" stop-color="rgb(0, 255, 175)" stop-opacity="1.00"/><stop offset="0.583" stop-color="rgb(0, 255, 129)" stop-opacity="0.03"/><stop offset="0.667" stop-color="rgb(0, 255, 127)" stop-opacity="0.00"/><stop offset="0.750" stop-color="rgb(0, 255, 125)" stop-opacity="0.00"/><stop offset="0.833" stop-color="rgb(0, 255, 120)" stop-opacity="0.00"/><stop offset="0.917" stop-color="rgb(0, 255, 113)" stop-opacity="0.00"/><stop offset="1.000" stop-color="rgb(0, 255, 103)" stop-opacity="0.00"/></radialGradient><radialGradient id="g42"><stop offset="0.000" stop-color="rgb(255, 0, 0)" stop-opacity="1.00"/><stop offset="0.083" stop-color="rgb(255, 0, 0)" stop-opacity="1.00"/><stop offset="0.167" stop-color="rgb(255, 0, 0)" stop-opacity="1.00"/><stop offset="0.250" stop-color="rgb(255, 0, 0)" stop-opacity="1.00"/><stop offset="0.333" stop-color="rgb(255, 95, 0)" stop-opacity="1.00"/><stop offset="0.417" stop-color="rgb(255, 208, 0)" stop-opacity="1.00"/><stop offset="0.500" stop-color="rgb(192, 255, 0)" stop-opacity="1.00"/><stop offset="0.583" stop-color="rgb(95, 255, 0)" stop-opacity="1.00"/><stop offset="0.667" stop-color="rgb(18, 255, 0)" stop-opacity="1.00"/><stop offset="0.750" stop-color="rgb(0, 255, 36)" stop-opacity="1.00"/><stop offset="0.833" stop-color="rgb(0, 255, 70)" stop-opacity="1.00"/><stop offset="0.917" stop-color="rgb(0, 255, 88)" stop-opacity="0.61"/><stop offset="1.000" stop-color="rgb(0, 255, 94)" stop-opacity="0.30"/></radialGradient><clipPath id="k4"><rect x="42" y="508" width="155" height="174"/></clipPath><radialGradient id="g43"><stop offset="0.000" stop-color="rgb(0, 255, 230)" stop-opacity="1.00"/><stop offset="0.083" stop-color="rgb(0, 255, 227)" stop-opacity="1.00"/><stop offset="0.167" stop-color="rgb(0, 255, 219)" stop-opacity="1.00"/><stop offset="0.250" stop-color="rgb(0, 255, 206)" stop-opacity="1.00"/><stop offset="0.333" stop-color="rgb(0, 255, 191)" stop-opacity="1.00"/><stop offset="0.417" stop-color="rgb(0, 255, 175)" stop-opacity="1.00"/><stop offset="0.500" stop-color="rgb(0, 255, 159)" stop-opacity="1.00"/><stop offset="0.583" stop-color="rgb(0, 255, 145)" stop-opacity="0.91"/><stop offset="0.667" stop-color="rgb(0, 255, 134)" stop-opacity="0.64"/><stop offset="0.750" stop-color="rgb(0, 255, 125)" stop-opacity="0.43"/><stop offset="0.833" stop-color="rgb(0, 255, 118)" stop-opacity="0.27"/><stop offset="0.917" stop-color="rgb(0, 255, 113)" stop-opacity="0.17"/><stop offset="1.000" stop-color="rgb(0, 255, 110)" stop-opacity="0.10"/></radialGradient><radialGradient id="g44"><stop offset="0.000" stop-color="rgb(43, 255, 0)" stop-opacity="1.00"/><stop offset="0.083" stop-color="rgb(40, 255, 0)" stop-opacity="1.00"/><stop offset="0.167" stop-color="rgb(30, 255, 0)" stop-opacity="1.00"/><stop offset="0.250" stop-color="rgb(14, 255, 0)" stop-opacity="1.00"/><stop offset="0.333" stop-color="rgb(0, 255, 5)" stop-opacity="1.00"/><stop offset="0.417" stop-color="rgb(0, 255, 24)" stop-opacity="1.00"/><stop offset="0.500" stop-color="rgb(0, 255, 43)" stop-opacity="1.00"/><stop offset="0.583" stop-color="rgb(0, 255, 59)" stop-opacity="1.00"/><stop offset="0.667" stop-color="rgb(0, 255, 73)" stop-opacity="0.77"/><stop offset="0.750" stop-color="rgb(0, 255, 84)" stop-opacity="0.51"/><stop offset="0.833" stop-color="rgb(0, 255, 92)" stop-opacity="0.33"/><stop offset="0.917" stop-color="rgb(0, 255, 98)" stop-opacity="0.20"/><stop offset="1.000" stop-color="rgb(0, 255, 101)" stop-opacity="0.12"/></radialGradient><radialGradient id="g45"><stop offset="0.000" stop-color="rgb(56, 255, 0)" stop-opacity="1.00"/><stop offset="0.083" stop-color="rgb(52, 255, 0)" stop-opacity="1.00"/><stop offset="0.167" stop-color="rgb(41, 255, 0)" stop-opacity="1.00"/><stop offset="0.250" stop-color="rgb(24, 255, 0)" stop-opacity="1.00"/><stop offset="0.333" stop-color="rgb(4, 255, 0)" stop-opacity="1.00"/><stop offset="0.417" stop-color="rgb(0, 255, 17)" stop-opacity="1.00"/><stop offset="0.500" stop-color="rgb(0, 255, 37)" stop-opacity="1.00"/><stop offset="0.583" stop-color="rgb(0, 255, 55)" stop-opacity="1.00"/><stop offset="0.667" stop-color="rgb(0, 255, 71)" stop-opacity="0.83"/><stop offset="0.750" stop-color="rgb(0, 255, 82)" stop-opacity="0.56"/><stop offset="0.833" stop-color="rgb(0, 255, 91)" stop-opacity="0.36"/><stop offset="0.917" stop-color="rgb(0, 255, 97)" stop-opacity="0.22"/><stop offset="1.000" stop-color="rgb(0, 255, 101)" stop-opacity="0.13"/></radialGradient><radialGradient id="g46"><stop offset="0.000" stop-color="rgb(0, 229, 255)" stop-opacity="1.00"/><stop offset="0.083" stop-color="rgb(0, 233, 255)" stop-opacity="1.00"/><stop offset="0.167" stop-color="rgb(0, 246, 255)" stop-opacity="1.00"/><stop offset="0.250" stop-color="rgb(0, 255, 246)" stop-opacity="1.00"/><stop offset="0.333" stop-color="rgb(0, 255, 225)" stop-opacity="1.00"/><stop offset="0.417" stop-color="rgb(0, 255, 202)" stop-opacity="1.00"/><stop offset="0.500" stop-color="rgb(0, 255, 180)" stop-opacity="1.00"/><stop offset="0.583" stop-color="rgb(0, 255, 161)" stop-opacity="1.00"/><stop offset="0.667" stop-color="rgb(0, 255, 145)" stop-opacity="0.89"/><stop offset="0.750" stop-color="rgb(0, 255, 132)" stop-opacity="0.60"/><stop offset="0.833" stop-color="rgb(0, 255, 123)" stop-opacity="0.38"/><stop offset="0.917" stop-color="rgb(0, 255, 116)" stop-opacity="0.23"/><stop offset="1.000" stop-color="rgb(0, 255, 112)" stop-opacity="0.14"/></radialGradient><radialGradient id="g47"><stop offset="0.000" stop-color="rgb(0, 202, 255)" stop-opacity="1.00"/><stop offset="0.083" stop-color="rgb(0, 207, 255)" stop-opacity="1.00"/><stop offset="0.167" stop-color="rgb(0, 221, 255)" stop-opacity="1.00"/><stop offset="0.250" stop-color="rgb(0, 243, 255)" stop-opacity="1.00"/><stop offset="0.333" stop-color="rgb(0, 255, 242)" stop-opacity="1.00"/><stop offset="0.417" stop-color="rgb(0, 255, 216)" stop-opacity="1.00"/><stop offset="0.500" stop-color="rgb(0, 255, 191)" stop-opacity="1.00"/><stop offset="0.583" stop-color="rgb(0, 255, 169)" stop-opacity="1.00"/><stop offset="0.667" stop-color="rgb(0, 255, 150)" stop-opacity="1.00"/><stop offset="0.750" stop-color="rgb(0, 255, 136)" stop-opacity="0.69"/><stop offset="0.833" stop-color="rgb(0, 255, 125)" stop-opacity="0.44"/><stop offset="0.917" stop-color="rgb(0, 255, 118)" stop-opacity="0.27"/><stop offset="1.000" stop-color="rgb(0, 255, 113)" stop-opacity="0.16"/></radialGradient><radialGradient id="g48"><stop offset="0.000" stop-color="rgb(0, 202, 255)" stop-opacity="1.00"/><stop offset="0.083" stop-color="rgb(0, 207, 255)" stop-opacity="1.00"/><stop offset="0.167" stop-color="rgb(0, 221, 255)" stop-opacity="1.00"/><stop offset="0.250" stop-color="rgb(0, 243, 255)" stop-opacity="1.00"/><stop offset="0.333" stop-color="rgb(0, 255, 242)" stop-opacity="1.00"/><stop offset="0.417" stop-color="rgb(0, 255, 216)" stop-opacity="1.00"/><stop offset="0.500" stop-color="rgb(0, 255, 191)" stop-opacity="1.00"/><stop offset="0.583" stop-color="rgb(0, 255, 169)" stop-opacity="1.00"/><stop offset="0.667" stop-color="rgb(0, 255, 150)" stop-opacity="1.00"/><stop offset="0.750" stop-color="rgb(0, 255, 136)" stop-opacity="0.69"/><stop offset="0.833" stop-color="rgb(0, 255, 125)" stop-opacity="0.44"/><stop offset="0.917" stop-color="rgb(0, 255, 118)" stop-opacity="0.27"/><stop offset="1.000" stop-color="rgb(0, 255, 113)" stop-opacity="0.16"/></radialGradient><radialGradient id="g49"><stop offset="0.000" stop-color="rgb(0, 193, 255)" stop-opacity="1.00"/><stop offset="0.083" stop-color="rgb(0, 199, 255)" stop-opacity="1.00"/><stop offset="0.167" stop-color="rgb(0, 214, 255)" stop-opacity="1.00"/><stop offset="0.250" stop-color="rgb(0, 236, 255)" stop-opacity="1.00"/><stop offset="0.333" stop-color="rgb(0, 255, 247)" stop-opacity="1.00"/><stop offset="0.417" stop-color="rgb(0, 255, 220)" stop-opacity="1.00"/><stop offset="0.500" stop-color="rgb(0, 255, 194)" stop-opacity="1.00"/><stop offset="0.583" stop-color="rgb(0, 255, 171)" stop-opacity="1.00"/><stop offset="0.667" stop-color="rgb(0, 255, 152)" stop-opacity="1.00"/><stop offset="0.750" stop-color="rgb(0, 255, 137)" stop-opacity="0.71"/><stop offset="0.833" stop-color="rgb(0, 255, 126)" stop-opacity="0.46"/><stop offset="0.917" stop-color="rgb(0, 255, 118)" stop-opacity="0.28"/><stop offset="1.000" stop-color="rgb(0, 255, 113)" stop-opacity="0.16"/></radialGradient><radialGradient id="g50"><stop offset="0.000" stop-color="rgb(0, 0, 0)" stop-opacity="1.00"/><stop offset="0.083" stop-color="rgb(7, 0, 11)" stop-opacity="1.00"/><stop offset="0.167" stop-color="rgb(63, 0, 104)" stop-opacity="1.00"/><stop offset="0.250" stop-color="rgb(85, 0, 171)" stop-opacity="1.00"/><stop offset="0.333" stop-color="rgb(35, 0, 232)" stop-opacity="1.00"/><stop offset="0.417" stop-color="rgb(0, 171, 255)" stop-opacity="1.00"/><stop offset="0.500" stop-color="rgb(0, 255, 111)" stop-opacity="1.00"/><stop offset="0.583" stop-color="rgb(10, 255, 0)" stop-opacity="0.03"/><stop offset="0.667" stop-color="rgb(108, 255, 0)" stop-opacity="0.00"/><stop offset="0.750" stop-color="rgb(182, 255, 0)" stop-opacity="0.00"/><stop offset="0.833" stop-color="rgb(213, 255, 0)" stop-opacity="0.00"/><stop offset="0.917" stop-color="rgb(214, 255, 0)" stop-opacity="0.00"/><stop offset="1.000" stop-color="rgb(200, 255, 0)" stop-opacity="0.00"/></radialGradient><radialGradient id="g51"><stop offset="0.000" stop-color="rgb(255, 83, 0)" stop-opacity="1.00"/><stop offset="0.083" stop-color="rgb(255, 85, 0)" stop-opacity="1.00"/><stop offset="0.167" stop-color="rgb(255, 104, 0)" stop-opacity="1.00"/><stop offset="0.250" stop-color="rgb(255, 152, 0)" stop-opacity="1.00"/><stop offset="0.333" stop-color="rgb(255, 233, 0)" stop-opacity="1.00"/><stop offset="0.417" stop-color="rgb(173, 255, 0)" stop-opacity="1.00"/><stop offset="0.500" stop-color="rgb(65, 255, 0)" stop-opacity="1.00"/><stop offset="0.583" stop-color="rgb(0, 255, 28)" stop-opacity="1.00"/><stop offset="0.667" stop-color="rgb(0, 255, 98)" stop-opacity="0.89"/><stop offset="0.750" stop-color="rgb(0, 255, 155)" stop-opacity="0.30"/><stop offset="0.833" stop-color="rgb(0, 255, 208)" stop-opacity="0.07"/><stop offset="0.917" stop-color="rgb(0, 247, 255)" stop-opacity="0.01"/><stop offset="1.000" stop-color="rgb(0, 192, 255)" stop-opacity="0.00"/></radialGradient><radialGradient id="g52"><stop offset="0.000" stop-color="rgb(90, 0, 154)" stop-opacity="1.00"/><stop offset="0.083" stop-color="rgb(89, 0, 157)" stop-opacity="1.00"/><stop offset="0.167" stop-color="rgb(85, 0, 171)" stop-opacity="1.00"/><stop offset="0.250" stop-color="rgb(75, 0, 204)" stop-opacity="1.00"/><stop offset="0.333" stop-color="rgb(16, 0, 244)" stop-opacity="1.00"/><stop offset="0.417" stop-color="rgb(0, 96, 255)" stop-opacity="1.00"/><stop offset="0.500" stop-color="rgb(0, 219, 255)" stop-opacity="1.00"/><stop offset="0.583" stop-color="rgb(0, 255, 194)" stop-opacity="1.00"/><stop offset="0.667" stop-color="rgb(0, 255, 126)" stop-opacity="0.96"/><stop offset="0.750" stop-color="rgb(0, 255, 74)" stop-opacity="0.32"/><stop offset="0.833" stop-color="rgb(0, 255, 23)" stop-opacity="0.08"/><stop offset="0.917" stop-color="rgb(31, 255, 0)" stop-opacity="0.01"/><stop offset="1.000" stop-color="rgb(83, 255, 0)" stop-opacity="0.00"/></radialGradient><radialGradient id="g53"><stop offset="0.000" stop-color="rgb(255, 0, 0)" stop-opacity="1.00"/><stop offset="0.083" stop-color="rgb(255, 0, 0)" stop-opacity="1.00"/><stop offset="0.167" stop-color="rgb(255, 0, 0)" stop-opacity="1.00"/><stop offset="0.250" stop-color="rgb(255, 0, 0)" stop-opacity="1.00"/><stop offset="0.333" stop-color="rgb(255, 71, 0)" stop-opacity="1.00"/><stop offset="0.417" stop-color="rgb(255, 213, 0)" stop-opacity="1.00"/><stop offset="0.500" stop-color="rgb(150, 255, 0)" stop-opacity="1.00"/><stop offset="0.583" stop-color="rgb(12, 255, 0)" stop-opacity="1.00"/><stop offset="0.667" stop-color="rgb(0, 255, 112)" stop-opacity="1.00"/><stop offset="0.750" stop-color="rgb(0, 255, 215)" stop-opacity="0.42"/><stop offset="0.833" stop-color="rgb(0, 223, 255)" stop-opacity="0.10"/><stop offset="0.917" stop-color="rgb(0, 179, 255)" stop-opacity="0.02"/><stop offset="1.000" stop-color="rgb(0, 152, 255)" stop-opacity="0.00"/></radialGradient><clipPath id="k5"><rect x="331" y="508" width="155" height="174"/></clipPath><radialGradient id="g54"><stop offset="0.000" stop-color="rgb(0, 255, 152)" stop-opacity="1.00"/><stop offset="0.083" stop-color="rgb(0, 255, 150)" stop-opacity="1.00"/><stop offset="0.167" stop-color="rgb(0, 255, 144)" stop-opacity="1.00"/><stop offset="0.250" stop-color="rgb(0, 255, 135)" stop-opacity="1.00"/><stop offset="0.333" stop-color="rgb(0, 255, 124)" stop-opacity="1.00"/><stop offset="0.417" stop-color="rgb(0, 255, 112)" stop-opacity="1.00"/><stop offset="0.500" stop-color="rgb(0, 255, 101)" stop-opacity="0.89"/><stop offset="0.583" stop-color="rgb(0, 255, 91)" stop-opacity="0.65"/><stop offset="0.667" stop-color="rgb(0, 255, 83)" stop-opacity="0.46"/><stop offset="0.750" stop-color="rgb(0, 255, 76)" stop-opacity="0.31"/><stop offset="0.833" stop-color="rgb(0, 255, 72)" stop-opacity="0.20"/><stop offset="0.917" stop-color="rgb(0, 255, 68)" stop-opacity="0.12"/><stop offset="1.000" stop-color="rgb(0, 255, 66)" stop-opacity="0.07"/></radialGradient><radialGradient id="g55"><stop offset="0.000" stop-color="rgb(0, 255, 181)" stop-opacity="1.00"/><stop offset="0.083" stop-color="rgb(0, 255, 179)" stop-opacity="1.00"/><stop offset="0.167" stop-color="rgb(0, 255, 171)" stop-opacity="1.00"/><stop offset="0.250" stop-color="rgb(0, 255, 159)" stop-opacity="1.00"/><stop offset="0.333" stop-color="rgb(0, 255, 144)" stop-opacity="1.00"/><stop offset="0.417" stop-color="rgb(0, 255, 129)" stop-opacity="1.00"/><stop offset="0.500" stop-color="rgb(0, 255, 114)" stop-opacity="1.00"/><stop offset="0.583" stop-color="rgb(0, 255, 101)" stop-opacity="0.87"/><stop offset="0.667" stop-color="rgb(0, 255, 89)" stop-opacity="0.61"/><stop offset="0.750" stop-color="rgb(0, 255, 81)" stop-opacity="0.41"/><stop offset="0.833" stop-color="rgb(0, 255, 74)" stop-opacity="0.26"/><stop offset="0.917" stop-color="rgb(0, 255, 70)" stop-opacity="0.16"/><stop offset="1.000" stop-color="rgb(0, 255, 67)" stop-opacity="0.09"/></radialGradient><radialGradient id="g56"><stop offset="0.000" stop-color="rgb(57, 255, 0)" stop-opacity="1.00"/><stop offset="0.083" stop-color="rgb(54, 255, 0)" stop-opacity="1.00"/><stop offset="0.167" stop-color="rgb(46, 255, 0)" stop-opacity="1.00"/><stop offset="0.250" stop-color="rgb(34, 255, 0)" stop-opacity="1.00"/><stop offset="0.333" stop-color="rgb(19, 255, 0)" stop-opacity="1.00"/><stop offset="0.417" stop-color="rgb(3, 255, 0)" stop-opacity="1.00"/><stop offset="0.500" stop-color="rgb(0, 255, 12)" stop-opacity="1.00"/><stop offset="0.583" stop-color="rgb(0, 255, 26)" stop-opacity="0.87"/><stop offset="0.667" stop-color="rgb(0, 255, 37)" stop-opacity="0.61"/><stop offset="0.750" stop-color="rgb(0, 255, 45)" stop-opacity="0.41"/><stop offset="0.833" stop-color="rgb(0, 255, 52)" stop-opacity="0.26"/><stop offset="0.917" stop-color="rgb(0, 255, 56)" stop-opacity="0.16"/><stop offset="1.000" stop-color="rgb(0, 255, 59)" stop-opacity="0.09"/></radialGradient><radialGradient id="g57"><stop offset="0.000" stop-color="rgb(0, 255, 181)" stop-opacity="1.00"/><stop offset="0.083" stop-color="rgb(0, 255, 179)" stop-opacity="1.00"/><stop offset="0.167" stop-color="rgb(0, 255, 171)" stop-opacity="1.00"/><stop offset="0.250" stop-color="rgb(0, 255, 159)" stop-opacity="1.00"/><stop offset="0.333" stop-color="rgb(0, 255, 144)" stop-opacity="1.00"/><stop offset="0.417" stop-color="rgb(0, 255, 129)" stop-opacity="1.00"/><stop offset="0.500" stop-color="rgb(0, 255, 114)" stop-opacity="1.00"/><stop offset="0.583" stop-color="rgb(0, 255, 101)" stop-opacity="0.87"/><stop offset="0.667" stop-color="rgb(0, 255, 89)" stop-opacity="0.61"/><stop offset="0.750" stop-color="rgb(0, 255, 81)" stop-opacity="0.41"/><stop offset="0.833" stop-color="rgb(0, 255, 74)" stop-opacity="0.26"/><stop offset="0.917" stop-color="rgb(0, 255, 70)" stop-opacity="0.16"/><stop offset="1.000" stop-color="rgb(0, 255, 67)" stop-opacity="0.09"/></radialGradient><radialGradient id="g58"><stop offset="0.000" stop-color="rgb(0, 255, 240)" stop-opacity="1.00"/><stop offset="0.083" stop-color="rgb(0, 255, 236)" stop-opacity="1.00"/><stop offset="0.167" stop-color="rgb(0, 255, 224)" stop-opacity="1.00"/><stop offset="0.250" stop-color="rgb(0, 255, 207)" stop-opacity="1.00"/><stop offset="0.333" stop-color="rgb(0, 255, 185)" stop-opacity="1.00"/><stop offset="0.417" stop-color="rgb(0, 255, 162)" stop-opacity="1.00"/><stop offset="0.500" stop-color="rgb(0, 255, 139)" stop-opacity="1.00"/><stop offset="0.583" stop-color="rgb(0, 255, 119)" stop-opacity="1.00"/><stop offset="0.667" stop-color="rgb(0, 255, 103)" stop-opacity="0.92"/><stop offset="0.750" stop-color="rgb(0, 255, 90)" stop-opacity="0.62"/><stop offset="0.833" stop-color="rgb(0, 255, 80)" stop-opacity="0.39"/><stop offset="0.917" stop-color="rgb(0, 255, 73)" stop-opacity="0.24"/><stop offset="1.000" stop-color="rgb(0, 255, 69)" stop-opacity="0.14"/></radialGradient><radialGradient id="g59"><stop offset="0.000" stop-color="rgb(210, 255, 0)" stop-opacity="1.00"/><stop offset="0.083" stop-color="rgb(203, 255, 0)" stop-opacity="1.00"/><stop offset="0.167" stop-color="rgb(185, 255, 0)" stop-opacity="1.00"/><stop offset="0.250" stop-color="rgb(157, 255, 0)" stop-opacity="1.00"/><stop offset="0.333" stop-color="rgb(124, 255, 0)" stop-opacity="1.00"/><stop offset="0.417" stop-color="rgb(88, 255, 0)" stop-opacity="1.00"/><stop offset="0.500" stop-color="rgb(53, 255, 0)" stop-opacity="1.00"/><stop offset="0.583" stop-color="rgb(22, 255, 0)" stop-opacity="1.00"/><stop offset="0.667" stop-color="rgb(0, 255, 4)" stop-opacity="1.00"/><stop offset="0.750" stop-color="rgb(0, 255, 23)" stop-opacity="0.92"/><stop offset="0.833" stop-color="rgb(0, 255, 38)" stop-opacity="0.59"/><stop offset="0.917" stop-color="rgb(0, 255, 48)" stop-opacity="0.36"/><stop offset="1.000" stop-color="rgb(0, 255, 54)" stop-opacity="0.21"/></radialGradient><radialGradient id="g60"><stop offset="0.000" stop-color="rgb(38, 0, 230)" stop-opacity="1.00"/><stop offset="0.083" stop-color="rgb(31, 0, 234)" stop-opacity="1.00"/><stop offset="0.167" stop-color="rgb(9, 0, 249)" stop-opacity="1.00"/><stop offset="0.250" stop-color="rgb(0, 45, 255)" stop-opacity="1.00"/><stop offset="0.333" stop-color="rgb(0, 125, 255)" stop-opacity="1.00"/><stop offset="0.417" stop-color="rgb(0, 219, 255)" stop-opacity="1.00"/><stop offset="0.500" stop-color="rgb(0, 255, 194)" stop-opacity="1.00"/><stop offset="0.583" stop-color="rgb(0, 255, 97)" stop-opacity="1.00"/><stop offset="0.667" stop-color="rgb(0, 255, 1)" stop-opacity="1.00"/><stop offset="0.750" stop-color="rgb(93, 255, 0)" stop-opacity="1.00"/><stop offset="0.833" stop-color="rgb(175, 255, 0)" stop-opacity="0.71"/><stop offset="0.917" stop-color="rgb(237, 255, 0)" stop-opacity="0.37"/><stop offset="1.000" stop-color="rgb(255, 234, 0)" stop-opacity="0.18"/></radialGradient><radialGradient id="g61"><stop offset="0.000" stop-color="rgb(75, 0, 204)" stop-opacity="1.00"/><stop offset="0.083" stop-color="rgb(75, 0, 205)" stop-opacity="1.00"/><stop offset="0.167" stop-color="rgb(62, 0, 213)" stop-opacity="1.00"/><stop offset="0.250" stop-color="rgb(29, 0, 235)" stop-opacity="1.00"/><stop offset="0.333" stop-color="rgb(0, 48, 255)" stop-opacity="1.00"/><stop offset="0.417" stop-color="rgb(0, 183, 255)" stop-opacity="1.00"/><stop offset="0.500" stop-color="rgb(0, 255, 175)" stop-opacity="1.00"/><stop offset="0.583" stop-color="rgb(0, 255, 34)" stop-opacity="1.00"/><stop offset="0.667" stop-color="rgb(80, 255, 0)" stop-opacity="0.92"/><stop offset="0.750" stop-color="rgb(153, 255, 0)" stop-opacity="0.30"/><stop offset="0.833" stop-color="rgb(192, 255, 0)" stop-opacity="0.08"/><stop offset="0.917" stop-color="rgb(210, 255, 0)" stop-opacity="0.01"/><stop offset="1.000" stop-color="rgb(213, 255, 0)" stop-opacity="0.00"/></radialGradient><radialGradient id="g62"><stop offset="0.000" stop-color="rgb(255, 0, 0)" stop-opacity="1.00"/><stop offset="0.083" stop-color="rgb(255, 0, 0)" stop-opacity="1.00"/><stop offset="0.167" stop-color="rgb(255, 0, 0)" stop-opacity="1.00"/><stop offset="0.250" stop-color="rgb(255, 45, 0)" stop-opacity="1.00"/><stop offset="0.333" stop-color="rgb(255, 154, 0)" stop-opacity="1.00"/><stop offset="0.417" stop-color="rgb(211, 255, 0)" stop-opacity="1.00"/><stop offset="0.500" stop-color="rgb(53, 255, 0)" stop-opacity="1.00"/><stop offset="0.583" stop-color="rgb(0, 255, 85)" stop-opacity="1.00"/><stop offset="0.667" stop-color="rgb(0, 255, 187)" stop-opacity="1.00"/><stop offset="0.750" stop-color="rgb(0, 255, 252)" stop-opacity="0.35"/><stop offset="0.833" stop-color="rgb(0, 216, 255)" stop-opacity="0.09"/><stop offset="0.917" stop-color="rgb(0, 195, 255)" stop-opacity="0.02"/><stop offset="1.000" stop-color="rgb(0, 185, 255)" stop-opacity="0.00"/></radialGradient><radialGradient id="g63"><stop offset="0.000" stop-color="rgb(255, 0, 0)" stop-opacity="1.00"/><stop offset="0.083" stop-color="rgb(255, 0, 0)" stop-opacity="1.00"/><stop offset="0.167" stop-color="rgb(255, 0, 0)" stop-opacity="1.00"/><stop offset="0.250" stop-color="rgb(255, 0, 0)" stop-opacity="1.00"/><stop offset="0.333" stop-color="rgb(255, 107, 0)" stop-opacity="1.00"/><stop offset="0.417" stop-color="rgb(255, 240, 0)" stop-opacity="1.00"/><stop offset="0.500" stop-color="rgb(136, 255, 0)" stop-opacity="1.00"/><stop offset="0.583" stop-color="rgb(14, 255, 0)" stop-opacity="1.00"/><stop offset="0.667" stop-color="rgb(0, 255, 82)" stop-opacity="1.00"/><stop offset="0.750" stop-color="rgb(0, 255, 153)" stop-opacity="1.00"/><stop offset="0.833" stop-color="rgb(0, 255, 201)" stop-opacity="0.48"/><stop offset="0.917" stop-color="rgb(0, 255, 233)" stop-opacity="0.19"/><stop offset="1.000" stop-color="rgb(0, 255, 251)" stop-opacity="0.06"/></radialGradient><radialGradient id="g64"><stop offset="0.000" stop-color="rgb(255, 0, 0)" stop-opacity="1.00"/><stop offset="0.083" stop-color="rgb(255, 0, 0)" stop-opacity="1.00"/><stop offset="0.167" stop-color="rgb(255, 0, 0)" stop-opacity="1.00"/><stop offset="0.250" stop-color="rgb(255, 0, 0)" stop-opacity="1.00"/><stop offset="0.333" stop-color="rgb(255, 121, 0)" stop-opacity="1.00"/><stop offset="0.417" stop-color="rgb(223, 255, 0)" stop-opacity="1.00"/><stop offset="0.500" stop-color="rgb(40, 255, 0)" stop-opacity="1.00"/><stop offset="0.583" stop-color="rgb(0, 255, 120)" stop-opacity="1.00"/><stop offset="0.667" stop-color="rgb(0, 255, 239)" stop-opacity="1.00"/><stop offset="0.750" stop-color="rgb(0, 191, 255)" stop-opacity="0.39"/><stop offset="0.833" stop-color="rgb(0, 144, 255)" stop-opacity="0.10"/><stop offset="0.917" stop-color="rgb(0, 120, 255)" stop-opacity="0.02"/><stop offset="1.000" stop-color="rgb(0, 109, 255)" stop-opacity="0.00"/></radialGradient><radialGradient id="g65"><stop offset="0.000" stop-color="rgb(7, 0, 12)" stop-opacity="1.00"/><stop offset="0.083" stop-color="rgb(13, 0, 22)" stop-opacity="1.00"/><stop offset="0.167" stop-color="rgb(52, 0, 86)" stop-opacity="1.00"/><stop offset="0.250" stop-color="rgb(87, 0, 166)" stop-opacity="1.00"/><stop offset="0.333" stop-color="rgb(19, 0, 242)" stop-opacity="1.00"/><stop offset="0.417" stop-color="rgb(0, 169, 255)" stop-opacity="1.00"/><stop offset="0.500" stop-color="rgb(0, 255, 140)" stop-opacity="1.00"/><stop offset="0.583" stop-color="rgb(30, 255, 0)" stop-opacity="1.00"/><stop offset="0.667" stop-color="rgb(153, 255, 0)" stop-opacity="1.00"/><stop offset="0.750" stop-color="rgb(221, 255, 0)" stop-opacity="0.41"/><stop offset="0.833" stop-color="rgb(250, 255, 0)" stop-opacity="0.10"/><stop offset="0.917" stop-color="rgb(255, 253, 0)" stop-opacity="0.02"/><stop offset="1.000" stop-color="rgb(254, 255, 0)" stop-opacity="0.00"/></radialGradient></defs><rect x="42" y="19" width="155" height="174" fill="rgb(62, 255, 0)"/><g clip-path="url(#k0)"><ellipse cx="119" cy="52" rx="15.60" ry="13.00" fill="url(#g0)"/><ellipse cx="119" cy="124" rx="18.20" ry="15.60" fill="url(#g1)"/><ellipse cx="102" cy="150" rx="20.80" ry="62.40" fill="url(#g2)" transform="rotate(24 102 150)"/><ellipse cx="136" cy="150" rx="20.80" ry="62.40" fill="url(#g3)" transform="rotate(-24 136 150)"/><ellipse cx="119" cy="146" rx="13.00" ry="52.00" fill="url(#g4)"/><ellipse cx="105" cy="61" rx="19.50" ry="33.80" fill="url(#g5)" transform="rotate(-38 105 61)"/><ellipse cx="133" cy="61" rx="19.50" ry="33.80" fill="url(#g6)" transform="rotate(38 133 61)"/><ellipse cx="119" cy="117" rx="13.00" ry="13.00" fill="url(#g7)"/><ellipse cx="118.6" cy="79.9" rx="9.49" ry="8.06" fill="url(#g8)"/><ellipse cx="119" cy="104.3" rx="19.76" ry="21.32" fill="url(#g9)"/><ellipse cx="118.8" cy="80" rx="29.74" ry="24.70" fill="url(#g10)"/></g><rect x="331" y="19" width="155" height="174" fill="rgb(0, 255, 10)"/><g clip-path="url(#k1)"><ellipse cx="403" cy="66" rx="15.60" ry="31.20" fill="url(#g11)" transform="rotate(-40 403 66)"/><ellipse cx="424" cy="66" rx="15.60" ry="31.20" fill="url(#g12)" transform="rotate(40 424 66)"/><ellipse cx="413.5" cy="150" rx="10.40" ry="36.40" fill="url(#g13)"/><ellipse cx="413.7" cy="66.5" rx="13.00" ry="7.80" fill="url(#g14)"/><ellipse cx="414" cy="74.5" rx="18.20" ry="5.20" fill="url(#g15)"/><ellipse cx="413.5" cy="128" rx="14.30" ry="28.60" fill="url(#g16)"/><ellipse cx="413.4" cy="102.6" rx="5.72" ry="4.68" fill="url(#g17)"/><ellipse cx="413.9" cy="81.1" rx="13.00" ry="6.11" fill="url(#g18)"/><ellipse cx="414.4" cy="90" rx="17.68" ry="8.84" fill="url(#g19)"/><ellipse cx="413.5" cy="102.7" rx="17.16" ry="13.52" fill="url(#g20)"/></g><rect x="42" y="263" width="155" height="174" fill="rgb(49, 255, 0)"/><g clip-path="url(#k2)"><ellipse cx="112" cy="313.8" rx="13.00" ry="10.40" fill="url(#g21)"/><ellipse cx="126.1" cy="313.8" rx="13.00" ry="10.40" fill="url(#g22)"/><ellipse cx="119.2" cy="412" rx="10.40" ry="31.20" fill="url(#g23)"/><ellipse cx="94" cy="352" rx="28.60" ry="83.20" fill="url(#g24)" transform="rotate(-17 94 352)"/><ellipse cx="144" cy="352" rx="28.60" ry="83.20" fill="url(#g25)" transform="rotate(17 144 352)"/><ellipse cx="118.8" cy="335.2" rx="5.20" ry="9.88" fill="url(#g26)"/><ellipse cx="119.2" cy="392" rx="11.44" ry="31.20" fill="url(#g27)"/><ellipse cx="91.5" cy="345.3" rx="10.92" ry="44.20" fill="url(#g28)" transform="rotate(-16 91.5 345.3)"/><ellipse cx="146.6" cy="345.3" rx="10.92" ry="44.20" fill="url(#g29)" transform="rotate(16 146.6 345.3)"/><ellipse cx="107.2" cy="345.4" rx="7.80" ry="19.50" fill="url(#g30)"/><ellipse cx="131.5" cy="345.4" rx="7.80" ry="19.50" fill="url(#g31)"/><ellipse cx="119.2" cy="367.5" rx="15.34" ry="35.75" fill="url(#g32)"/><ellipse cx="118.8" cy="335" rx="16.12" ry="29.12" fill="url(#g33)"/></g><rect x="331" y="263" width="155" height="174" fill="rgb(0, 255, 130)"/><g clip-path="url(#k3)"><ellipse cx="393" cy="358" rx="13.00" ry="62.40" fill="url(#g34)" transform="rotate(-17 393 358)"/><ellipse cx="434" cy="353" rx="13.00" ry="62.40" fill="url(#g35)" transform="rotate(17 434 353)"/><ellipse cx="414.4" cy="316.7" rx="15.60" ry="6.50" fill="url(#g36)"/><ellipse cx="415.1" cy="323.6" rx="15.60" ry="6.50" fill="url(#g37)"/><ellipse cx="414" cy="333.2" rx="7.80" ry="3.90" fill="url(#g38)"/><ellipse cx="413.3" cy="398" rx="9.36" ry="28.60" fill="url(#g39)"/><ellipse cx="413.3" cy="372" rx="11.70" ry="33.80" fill="url(#g40)"/><ellipse cx="414" cy="333.6" rx="18.98" ry="11.70" fill="url(#g41)"/><ellipse cx="414.2" cy="346.3" rx="13.52" ry="13.00" fill="url(#g42)"/></g><rect x="42" y="508" width="155" height="174" fill="rgb(0, 255, 106)"/><g clip-path="url(#k4)"><ellipse cx="130.5" cy="605" rx="7.28" ry="26.00" fill="url(#g43)" transform="rotate(-18 130.5 605)"/><ellipse cx="123.5" cy="628" rx="6.50" ry="33.80" fill="url(#g44)"/><ellipse cx="98" cy="590" rx="15.60" ry="62.40" fill="url(#g45)" transform="rotate(-20 98 590)"/><ellipse cx="141" cy="593" rx="13.00" ry="57.20" fill="url(#g46)" transform="rotate(20 141 593)"/><ellipse cx="113.8" cy="635" rx="5.72" ry="52.00" fill="url(#g47)"/><ellipse cx="109" cy="578" rx="6.50" ry="10.40" fill="url(#g48)" transform="rotate(30 109 578)"/><ellipse cx="124.9" cy="589.5" rx="4.42" ry="8.58" fill="url(#g49)" transform="rotate(-10 124.9 589.5)"/><ellipse cx="125.1" cy="590" rx="12.74" ry="28.60" fill="url(#g50)" transform="rotate(-10 125.1 590)"/><ellipse cx="126.4" cy="568.5" rx="10.66" ry="20.80" fill="url(#g51)"/><ellipse cx="111.8" cy="569.4" rx="11.44" ry="21.58" fill="url(#g52)" transform="rotate(12 111.8 569.4)"/><ellipse cx="113.8" cy="589.8" rx="8.58" ry="22.88" fill="url(#g53)" transform="rotate(8 113.8 589.8)"/></g><rect x="331" y="508" width="155" height="174" fill="rgb(0, 255, 63)"/><g clip-path="url(#k5)"><ellipse cx="409" cy="590.3" rx="4.68" ry="6.50" fill="url(#g54)" transform="rotate(20 409 590.3)"/><ellipse cx="391" cy="615" rx="13.00" ry="65.00" fill="url(#g55)" transform="rotate(-15 391 615)"/><ellipse cx="433.6" cy="608" rx="13.00" ry="65.00" fill="url(#g56)" transform="rotate(15 433.6 608)"/><ellipse cx="411.7" cy="567.5" rx="13.00" ry="7.80" fill="url(#g57)"/><ellipse cx="418.4" cy="647" rx="8.58" ry="26.00" fill="url(#g58)"/><ellipse cx="407" cy="632" rx="7.80" ry="26.00" fill="url(#g59)" transform="rotate(6 407 632)"/><ellipse cx="418.4" cy="625" rx="10.14" ry="39.00" fill="url(#g60)"/><ellipse cx="419.6" cy="580" rx="10.92" ry="9.36" fill="url(#g61)"/><ellipse cx="409.6" cy="578.5" rx="9.36" ry="8.58" fill="url(#g62)"/><ellipse cx="408.7" cy="613" rx="9.10" ry="31.20" fill="url(#g63)" transform="rotate(6 408.7 613)"/><ellipse cx="418.6" cy="593.4" rx="10.40" ry="13.52" fill="url(#g64)"/><ellipse cx="408.8" cy="591.5" rx="10.66" ry="19.24" fill="url(#g65)" transform="rotate(20 408.8 591.5)"/></g></svg>
<canvas id="c0" width="155" height="174" style="left:42px;top:19px;"></canvas><canvas id="c1" width="155" height="174" style="left:331px;top:19px;"></canvas><canvas id="c2" width="155" height="174" style="left:42px;top:263px;"></canvas><canvas id="c3" width="155" height="174" style="left:331px;top:263px;"></canvas><canvas id="c4" width="155" height="174" style="left:42px;top:508px;"></canvas><canvas id="c5" width="155" height="174" style="left:331px;top:508px;"></canvas>
<div class="t" style="top:0.55px;font-size:12.8px;line-height:12.8px;letter-spacing:1.85px;left:-81.60px;width:400px;text-align:center;text-indent:1.85px;">Model<span style="letter-spacing:3.2px"> </span><span class="one">l</span></div><div class="t" style="top:203.53px;font-size:11.2px;line-height:11.2px;letter-spacing:1.3px;left:-158.80px;width:400px;text-align:center;text-indent:1.30px;"><span class="mi">&minus;</span>40</div><div class="t" style="top:203.53px;font-size:11.2px;line-height:11.2px;letter-spacing:1.3px;left:-120.00px;width:400px;text-align:center;text-indent:1.30px;"><span class="mi">&minus;</span>20</div><div class="t" style="top:203.53px;font-size:11.2px;line-height:11.2px;letter-spacing:1.3px;left:-81.20px;width:400px;text-align:center;text-indent:1.30px;">0</div><div class="t" style="top:203.53px;font-size:11.2px;line-height:11.2px;letter-spacing:1.3px;left:-42.40px;width:400px;text-align:center;text-indent:1.30px;">20</div><div class="t" style="top:203.53px;font-size:11.2px;line-height:11.2px;letter-spacing:1.3px;left:-3.60px;width:400px;text-align:center;text-indent:1.30px;">40</div><div class="t" style="top:218.95px;font-size:12.8px;line-height:12.8px;letter-spacing:1.0px;left:-80.80px;width:400px;text-align:center;text-indent:1.00px;">&Delta;<span style="margin-left:-1.6px">&lambda;</span> (pm)</div><div class="t" style="top:30.13px;font-size:11.2px;line-height:11.2px;letter-spacing:1.3px;left:-164.80px;width:201.30px;text-align:right;"><span class="one">l</span></div><div class="t" style="top:61.93px;font-size:11.2px;line-height:11.2px;letter-spacing:1.3px;left:-164.80px;width:201.30px;text-align:right;">0</div><div class="t" style="top:93.93px;font-size:11.2px;line-height:11.2px;letter-spacing:1.3px;left:-164.80px;width:201.30px;text-align:right;"><span class="mi mi2">&minus;</span><span class="one">l</span></div><div class="t" style="top:126.13px;font-size:11.2px;line-height:11.2px;letter-spacing:1.3px;left:-164.80px;width:201.30px;text-align:right;"><span class="mi mi2">&minus;</span>2</div><div class="t" style="top:157.83px;font-size:11.2px;line-height:11.2px;letter-spacing:1.3px;left:-164.80px;width:201.30px;text-align:right;"><span class="mi mi2">&minus;</span>3</div><div class="t" style="top:184.93px;font-size:11.2px;line-height:11.2px;letter-spacing:1.3px;left:-164.80px;width:201.30px;text-align:right;"><span class="mi mi2">&minus;</span>4</div><div class="t rot" style="left:9.00px;top:106.50px;font-size:12.8px;letter-spacing:0.9px;">log <span class="tau">&tau;</span><sub>c</sub></div><div class="cb" style="left:203px;top:18px;background:linear-gradient(to bottom,rgb(255,0,0) 0.5px,rgb(255,0,0) 14.9px,rgb(255,255,0) 44.8px,rgb(0,255,0) 75.0px,rgb(0,255,255) 106.1px,rgb(0,0,255) 134.5px,rgb(75,0,205) 147.7px,rgb(90,0,155) 157.3px,rgb(55,0,90) 166.1px,rgb(15,0,25) 171.8px,rgb(0,0,0) 175.7px);"></div><div class="t" style="top:17.14px;font-size:11.2px;line-height:11.2px;letter-spacing:1.3px;left:222.00px;"><span class="one">l</span>0</div><div class="t" style="top:49.22px;font-size:11.2px;line-height:11.2px;letter-spacing:1.3px;left:222.00px;">5</div><div class="t" style="top:81.30px;font-size:11.2px;line-height:11.2px;letter-spacing:1.3px;left:222.00px;">0</div><div class="t" style="top:113.37px;font-size:11.2px;line-height:11.2px;letter-spacing:1.3px;left:222.00px;"><span class="mi">&minus;</span>5</div><div class="t" style="top:145.45px;font-size:11.2px;line-height:11.2px;letter-spacing:1.3px;left:222.00px;"><span class="mi">&minus;</span><span class="one">l</span>0</div><div class="t" style="top:177.52px;font-size:11.2px;line-height:11.2px;letter-spacing:1.3px;left:222.00px;"><span class="mi">&minus;</span><span class="one">l</span>5</div><div class="t rot" style="left:259.30px;top:106.10px;font-size:11.6px;letter-spacing:0.5px;">RF<span style="letter-spacing:2.5px"> </span>Q<sub class="s2">T</sub></div><div class="t" style="top:0.55px;font-size:12.8px;line-height:12.8px;letter-spacing:1.85px;left:207.40px;width:400px;text-align:center;text-indent:1.85px;">Model<span style="letter-spacing:3.2px"> </span>2</div><div class="t" style="top:203.53px;font-size:11.2px;line-height:11.2px;letter-spacing:1.3px;left:130.20px;width:400px;text-align:center;text-indent:1.30px;"><span class="mi">&minus;</span>40</div><div class="t" style="top:203.53px;font-size:11.2px;line-height:11.2px;letter-spacing:1.3px;left:169.00px;width:400px;text-align:center;text-indent:1.30px;"><span class="mi">&minus;</span>20</div><div class="t" style="top:203.53px;font-size:11.2px;line-height:11.2px;letter-spacing:1.3px;left:207.80px;width:400px;text-align:center;text-indent:1.30px;">0</div><div class="t" style="top:203.53px;font-size:11.2px;line-height:11.2px;letter-spacing:1.3px;left:246.60px;width:400px;text-align:center;text-indent:1.30px;">20</div><div class="t" style="top:203.53px;font-size:11.2px;line-height:11.2px;letter-spacing:1.3px;left:285.40px;width:400px;text-align:center;text-indent:1.30px;">40</div><div class="t" style="top:218.95px;font-size:12.8px;line-height:12.8px;letter-spacing:1.0px;left:208.20px;width:400px;text-align:center;text-indent:1.00px;">&Delta;<span style="margin-left:-1.6px">&lambda;</span> (pm)</div><div class="t" style="top:30.13px;font-size:11.2px;line-height:11.2px;letter-spacing:1.3px;left:124.20px;width:201.30px;text-align:right;"><span class="one">l</span></div><div class="t" style="top:61.93px;font-size:11.2px;line-height:11.2px;letter-spacing:1.3px;left:124.20px;width:201.30px;text-align:right;">0</div><div class="t" style="top:93.93px;font-size:11.2px;line-height:11.2px;letter-spacing:1.3px;left:124.20px;width:201.30px;text-align:right;"><span class="mi mi2">&minus;</span><span class="one">l</span></div><div class="t" style="top:126.13px;font-size:11.2px;line-height:11.2px;letter-spacing:1.3px;left:124.20px;width:201.30px;text-align:right;"><span class="mi mi2">&minus;</span>2</div><div class="t" style="top:157.83px;font-size:11.2px;line-height:11.2px;letter-spacing:1.3px;left:124.20px;width:201.30px;text-align:right;"><span class="mi mi2">&minus;</span>3</div><div class="t" style="top:184.93px;font-size:11.2px;line-height:11.2px;letter-spacing:1.3px;left:124.20px;width:201.30px;text-align:right;"><span class="mi mi2">&minus;</span>4</div><div class="t rot" style="left:298.00px;top:106.50px;font-size:12.8px;letter-spacing:0.9px;">log <span class="tau">&tau;</span><sub>c</sub></div><div class="cb" style="left:492px;top:18px;background:linear-gradient(to bottom,rgb(255,0,0) 0.5px,rgb(255,0,0) 14.9px,rgb(255,255,0) 44.8px,rgb(0,255,0) 75.0px,rgb(0,255,255) 106.1px,rgb(0,0,255) 134.5px,rgb(75,0,205) 147.7px,rgb(90,0,155) 157.3px,rgb(55,0,90) 166.1px,rgb(15,0,25) 171.8px,rgb(0,0,0) 175.7px);"></div><div class="t" style="top:42.22px;font-size:11.2px;line-height:11.2px;letter-spacing:1.3px;left:511.00px;">2</div><div class="t" style="top:89.83px;font-size:11.2px;line-height:11.2px;letter-spacing:1.3px;left:511.00px;">0</div><div class="t" style="top:137.44px;font-size:11.2px;line-height:11.2px;letter-spacing:1.3px;left:511.00px;"><span class="mi">&minus;</span>2</div><div class="t" style="top:185.04px;font-size:11.2px;line-height:11.2px;letter-spacing:1.3px;left:511.00px;"><span class="mi">&minus;</span>4</div><div class="t rot" style="left:540.80px;top:106.10px;font-size:11.6px;letter-spacing:0.5px;">RF<span style="letter-spacing:2.5px"> </span>Q<sub class="s2">T</sub></div><div class="t" style="top:244.55px;font-size:12.8px;line-height:12.8px;letter-spacing:1.85px;left:-81.60px;width:400px;text-align:center;text-indent:1.85px;">Model<span style="letter-spacing:3.2px"> </span><span class="one">l</span></div><div class="t" style="top:447.53px;font-size:11.2px;line-height:11.2px;letter-spacing:1.3px;left:-158.80px;width:400px;text-align:center;text-indent:1.30px;"><span class="mi">&minus;</span>40</div><div class="t" style="top:447.53px;font-size:11.2px;line-height:11.2px;letter-spacing:1.3px;left:-120.00px;width:400px;text-align:center;text-indent:1.30px;"><span class="mi">&minus;</span>20</div><div class="t" style="top:447.53px;font-size:11.2px;line-height:11.2px;letter-spacing:1.3px;left:-81.20px;width:400px;text-align:center;text-indent:1.30px;">0</div><div class="t" style="top:447.53px;font-size:11.2px;line-height:11.2px;letter-spacing:1.3px;left:-42.40px;width:400px;text-align:center;text-indent:1.30px;">20</div><div class="t" style="top:447.53px;font-size:11.2px;line-height:11.2px;letter-spacing:1.3px;left:-3.60px;width:400px;text-align:center;text-indent:1.30px;">40</div><div class="t" style="top:462.95px;font-size:12.8px;line-height:12.8px;letter-spacing:1.0px;left:-80.80px;width:400px;text-align:center;text-indent:1.00px;">&Delta;<span style="margin-left:-1.6px">&lambda;</span> (pm)</div><div class="t" style="top:274.13px;font-size:11.2px;line-height:11.2px;letter-spacing:1.3px;left:-164.80px;width:201.30px;text-align:right;"><span class="one">l</span></div><div class="t" style="top:305.93px;font-size:11.2px;line-height:11.2px;letter-spacing:1.3px;left:-164.80px;width:201.30px;text-align:right;">0</div><div class="t" style="top:337.93px;font-size:11.2px;line-height:11.2px;letter-spacing:1.3px;left:-164.80px;width:201.30px;text-align:right;"><span class="mi mi2">&minus;</span><span class="one">l</span></div><div class="t" style="top:370.13px;font-size:11.2px;line-height:11.2px;letter-spacing:1.3px;left:-164.80px;width:201.30px;text-align:right;"><span class="mi mi2">&minus;</span>2</div><div class="t" style="top:401.83px;font-size:11.2px;line-height:11.2px;letter-spacing:1.3px;left:-164.80px;width:201.30px;text-align:right;"><span class="mi mi2">&minus;</span>3</div><div class="t" style="top:428.93px;font-size:11.2px;line-height:11.2px;letter-spacing:1.3px;left:-164.80px;width:201.30px;text-align:right;"><span class="mi mi2">&minus;</span>4</div><div class="t rot" style="left:9.00px;top:350.50px;font-size:12.8px;letter-spacing:0.9px;">log <span class="tau">&tau;</span><sub>c</sub></div><div class="cb" style="left:203px;top:262px;background:linear-gradient(to bottom,rgb(255,0,0) 0.5px,rgb(255,0,0) 14.9px,rgb(255,255,0) 44.8px,rgb(0,255,0) 75.0px,rgb(0,255,255) 106.1px,rgb(0,0,255) 134.5px,rgb(75,0,205) 147.7px,rgb(90,0,155) 157.3px,rgb(55,0,90) 166.1px,rgb(15,0,25) 171.8px,rgb(0,0,0) 175.7px);"></div><div class="t" style="top:266.02px;font-size:11.2px;line-height:11.2px;letter-spacing:1.3px;left:222.00px;">2</div><div class="t" style="top:296.39px;font-size:11.2px;line-height:11.2px;letter-spacing:1.3px;left:222.00px;"><span class="one">l</span></div><div class="t" style="top:326.75px;font-size:11.2px;line-height:11.2px;letter-spacing:1.3px;left:222.00px;">0</div><div class="t" style="top:357.12px;font-size:11.2px;line-height:11.2px;letter-spacing:1.3px;left:222.00px;"><span class="mi">&minus;</span><span class="one">l</span></div><div class="t" style="top:387.48px;font-size:11.2px;line-height:11.2px;letter-spacing:1.3px;left:222.00px;"><span class="mi">&minus;</span>2</div><div class="t" style="top:417.84px;font-size:11.2px;line-height:11.2px;letter-spacing:1.3px;left:222.00px;"><span class="mi">&minus;</span>3</div><div class="t rot" style="left:251.60px;top:350.10px;font-size:11.6px;letter-spacing:0.5px;">RF<span style="letter-spacing:2.5px"> </span>Q<sub class="s2">B</sub></div><div class="t" style="top:244.55px;font-size:12.8px;line-height:12.8px;letter-spacing:1.85px;left:207.40px;width:400px;text-align:center;text-indent:1.85px;">Model<span style="letter-spacing:3.2px"> </span>2</div><div class="t" style="top:447.53px;font-size:11.2px;line-height:11.2px;letter-spacing:1.3px;left:130.20px;width:400px;text-align:center;text-indent:1.30px;"><span class="mi">&minus;</span>40</div><div class="t" style="top:447.53px;font-size:11.2px;line-height:11.2px;letter-spacing:1.3px;left:169.00px;width:400px;text-align:center;text-indent:1.30px;"><span class="mi">&minus;</span>20</div><div class="t" style="top:447.53px;font-size:11.2px;line-height:11.2px;letter-spacing:1.3px;left:207.80px;width:400px;text-align:center;text-indent:1.30px;">0</div><div class="t" style="top:447.53px;font-size:11.2px;line-height:11.2px;letter-spacing:1.3px;left:246.60px;width:400px;text-align:center;text-indent:1.30px;">20</div><div class="t" style="top:447.53px;font-size:11.2px;line-height:11.2px;letter-spacing:1.3px;left:285.40px;width:400px;text-align:center;text-indent:1.30px;">40</div><div class="t" style="top:462.95px;font-size:12.8px;line-height:12.8px;letter-spacing:1.0px;left:208.20px;width:400px;text-align:center;text-indent:1.00px;">&Delta;<span style="margin-left:-1.6px">&lambda;</span> (pm)</div><div class="t" style="top:274.13px;font-size:11.2px;line-height:11.2px;letter-spacing:1.3px;left:124.20px;width:201.30px;text-align:right;"><span class="one">l</span></div><div class="t" style="top:305.93px;font-size:11.2px;line-height:11.2px;letter-spacing:1.3px;left:124.20px;width:201.30px;text-align:right;">0</div><div class="t" style="top:337.93px;font-size:11.2px;line-height:11.2px;letter-spacing:1.3px;left:124.20px;width:201.30px;text-align:right;"><span class="mi mi2">&minus;</span><span class="one">l</span></div><div class="t" style="top:370.13px;font-size:11.2px;line-height:11.2px;letter-spacing:1.3px;left:124.20px;width:201.30px;text-align:right;"><span class="mi mi2">&minus;</span>2</div><div class="t" style="top:401.83px;font-size:11.2px;line-height:11.2px;letter-spacing:1.3px;left:124.20px;width:201.30px;text-align:right;"><span class="mi mi2">&minus;</span>3</div><div class="t" style="top:428.93px;font-size:11.2px;line-height:11.2px;letter-spacing:1.3px;left:124.20px;width:201.30px;text-align:right;"><span class="mi mi2">&minus;</span>4</div><div class="t rot" style="left:298.00px;top:350.50px;font-size:12.8px;letter-spacing:0.9px;">log <span class="tau">&tau;</span><sub>c</sub></div><div class="cb" style="left:492px;top:262px;background:linear-gradient(to bottom,rgb(255,0,0) 0.5px,rgb(255,0,0) 14.9px,rgb(255,255,0) 44.8px,rgb(0,255,0) 75.0px,rgb(0,255,255) 106.1px,rgb(0,0,255) 134.5px,rgb(75,0,205) 147.7px,rgb(90,0,155) 157.3px,rgb(55,0,90) 166.1px,rgb(15,0,25) 171.8px,rgb(0,0,0) 175.7px);"></div><div class="t" style="top:280.54px;font-size:11.2px;line-height:11.2px;letter-spacing:1.3px;left:511.00px;"><span class="one">l</span>.0</div><div class="t" style="top:314.49px;font-size:11.2px;line-height:11.2px;letter-spacing:1.3px;left:511.00px;">0.5</div><div class="t" style="top:348.45px;font-size:11.2px;line-height:11.2px;letter-spacing:1.3px;left:511.00px;">0.0</div><div class="t" style="top:382.40px;font-size:11.2px;line-height:11.2px;letter-spacing:1.3px;left:511.00px;"><span class="mi">&minus;</span>0.5</div><div class="t" style="top:416.35px;font-size:11.2px;line-height:11.2px;letter-spacing:1.3px;left:511.00px;"><span class="mi">&minus;</span><span class="one">l</span>.0</div><div class="t rot" style="left:552.60px;top:353.60px;font-size:11.6px;letter-spacing:0.5px;">RF<span style="letter-spacing:2.5px"> </span>Q<sub class="s2"></sub></div><div class="t" style="top:489.55px;font-size:12.8px;line-height:12.8px;letter-spacing:1.85px;left:-81.60px;width:400px;text-align:center;text-indent:1.85px;">Model<span style="letter-spacing:3.2px"> </span><span class="one">l</span></div><div class="t" style="top:692.53px;font-size:11.2px;line-height:11.2px;letter-spacing:1.3px;left:-158.80px;width:400px;text-align:center;text-indent:1.30px;"><span class="mi">&minus;</span>40</div><div class="t" style="top:692.53px;font-size:11.2px;line-height:11.2px;letter-spacing:1.3px;left:-120.00px;width:400px;text-align:center;text-indent:1.30px;"><span class="mi">&minus;</span>20</div><div class="t" style="top:692.53px;font-size:11.2px;line-height:11.2px;letter-spacing:1.3px;left:-81.20px;width:400px;text-align:center;text-indent:1.30px;">0</div><div class="t" style="top:692.53px;font-size:11.2px;line-height:11.2px;letter-spacing:1.3px;left:-42.40px;width:400px;text-align:center;text-indent:1.30px;">20</div><div class="t" style="top:692.53px;font-size:11.2px;line-height:11.2px;letter-spacing:1.3px;left:-3.60px;width:400px;text-align:center;text-indent:1.30px;">40</div><div class="t" style="top:707.95px;font-size:12.8px;line-height:12.8px;letter-spacing:1.0px;left:-80.80px;width:400px;text-align:center;text-indent:1.00px;">&Delta;<span style="margin-left:-1.6px">&lambda;</span> (pm)</div><div class="t" style="top:519.13px;font-size:11.2px;line-height:11.2px;letter-spacing:1.3px;left:-164.80px;width:201.30px;text-align:right;"><span class="one">l</span></div><div class="t" style="top:550.93px;font-size:11.2px;line-height:11.2px;letter-spacing:1.3px;left:-164.80px;width:201.30px;text-align:right;">0</div><div class="t" style="top:582.93px;font-size:11.2px;line-height:11.2px;letter-spacing:1.3px;left:-164.80px;width:201.30px;text-align:right;"><span class="mi mi2">&minus;</span><span class="one">l</span></div><div class="t" style="top:615.13px;font-size:11.2px;line-height:11.2px;letter-spacing:1.3px;left:-164.80px;width:201.30px;text-align:right;"><span class="mi mi2">&minus;</span>2</div><div class="t" style="top:646.83px;font-size:11.2px;line-height:11.2px;letter-spacing:1.3px;left:-164.80px;width:201.30px;text-align:right;"><span class="mi mi2">&minus;</span>3</div><div class="t" style="top:673.93px;font-size:11.2px;line-height:11.2px;letter-spacing:1.3px;left:-164.80px;width:201.30px;text-align:right;"><span class="mi mi2">&minus;</span>4</div><div class="t rot" style="left:9.00px;top:595.50px;font-size:12.8px;letter-spacing:0.9px;">log <span class="tau">&tau;</span><sub>c</sub></div><div class="cb" style="left:203px;top:507px;background:linear-gradient(to bottom,rgb(255,0,0) 0.5px,rgb(255,0,0) 14.9px,rgb(255,255,0) 44.8px,rgb(0,255,0) 75.0px,rgb(0,255,255) 106.1px,rgb(0,0,255) 134.5px,rgb(75,0,205) 147.7px,rgb(90,0,155) 157.3px,rgb(55,0,90) 166.1px,rgb(15,0,25) 171.8px,rgb(0,0,0) 175.7px);"></div><div class="t" style="top:530.23px;font-size:11.2px;line-height:11.2px;letter-spacing:1.3px;left:222.00px;">20</div><div class="t" style="top:560.40px;font-size:11.2px;line-height:11.2px;letter-spacing:1.3px;left:222.00px;"><span class="one">l</span>0</div><div class="t" style="top:590.58px;font-size:11.2px;line-height:11.2px;letter-spacing:1.3px;left:222.00px;">0</div><div class="t" style="top:620.75px;font-size:11.2px;line-height:11.2px;letter-spacing:1.3px;left:222.00px;"><span class="mi">&minus;</span><span class="one">l</span>0</div><div class="t" style="top:650.93px;font-size:11.2px;line-height:11.2px;letter-spacing:1.3px;left:222.00px;"><span class="mi">&minus;</span>20</div><div class="t rot" style="left:259.30px;top:595.10px;font-size:11.6px;letter-spacing:0.5px;">RF<span style="letter-spacing:2.5px"> </span>Q<sub class="s2">Vz</sub></div><div class="t" style="top:489.55px;font-size:12.8px;line-height:12.8px;letter-spacing:1.85px;left:207.40px;width:400px;text-align:center;text-indent:1.85px;">Model<span style="letter-spacing:3.2px"> </span>2</div><div class="t" style="top:692.53px;font-size:11.2px;line-height:11.2px;letter-spacing:1.3px;left:130.20px;width:400px;text-align:center;text-indent:1.30px;"><span class="mi">&minus;</span>40</div><div class="t" style="top:692.53px;font-size:11.2px;line-height:11.2px;letter-spacing:1.3px;left:169.00px;width:400px;text-align:center;text-indent:1.30px;"><span class="mi">&minus;</span>20</div><div class="t" style="top:692.53px;font-size:11.2px;line-height:11.2px;letter-spacing:1.3px;left:207.80px;width:400px;text-align:center;text-indent:1.30px;">0</div><div class="t" style="top:692.53px;font-size:11.2px;line-height:11.2px;letter-spacing:1.3px;left:246.60px;width:400px;text-align:center;text-indent:1.30px;">20</div><div class="t" style="top:692.53px;font-size:11.2px;line-height:11.2px;letter-spacing:1.3px;left:285.40px;width:400px;text-align:center;text-indent:1.30px;">40</div><div class="t" style="top:707.95px;font-size:12.8px;line-height:12.8px;letter-spacing:1.0px;left:208.20px;width:400px;text-align:center;text-indent:1.00px;">&Delta;<span style="margin-left:-1.6px">&lambda;</span> (pm)</div><div class="t" style="top:519.13px;font-size:11.2px;line-height:11.2px;letter-spacing:1.3px;left:124.20px;width:201.30px;text-align:right;"><span class="one">l</span></div><div class="t" style="top:550.93px;font-size:11.2px;line-height:11.2px;letter-spacing:1.3px;left:124.20px;width:201.30px;text-align:right;">0</div><div class="t" style="top:582.93px;font-size:11.2px;line-height:11.2px;letter-spacing:1.3px;left:124.20px;width:201.30px;text-align:right;"><span class="mi mi2">&minus;</span><span class="one">l</span></div><div class="t" style="top:615.13px;font-size:11.2px;line-height:11.2px;letter-spacing:1.3px;left:124.20px;width:201.30px;text-align:right;"><span class="mi mi2">&minus;</span>2</div><div class="t" style="top:646.83px;font-size:11.2px;line-height:11.2px;letter-spacing:1.3px;left:124.20px;width:201.30px;text-align:right;"><span class="mi mi2">&minus;</span>3</div><div class="t" style="top:673.93px;font-size:11.2px;line-height:11.2px;letter-spacing:1.3px;left:124.20px;width:201.30px;text-align:right;"><span class="mi mi2">&minus;</span>4</div><div class="t rot" style="left:298.00px;top:595.50px;font-size:12.8px;letter-spacing:0.9px;">log <span class="tau">&tau;</span><sub>c</sub></div><div class="cb" style="left:492px;top:507px;background:linear-gradient(to bottom,rgb(255,0,0) 0.5px,rgb(255,0,0) 14.9px,rgb(255,255,0) 44.8px,rgb(0,255,0) 75.0px,rgb(0,255,255) 106.1px,rgb(0,0,255) 134.5px,rgb(75,0,205) 147.7px,rgb(90,0,155) 157.3px,rgb(55,0,90) 166.1px,rgb(15,0,25) 171.8px,rgb(0,0,0) 175.7px);"></div><div class="t" style="top:513.06px;font-size:11.2px;line-height:11.2px;letter-spacing:1.3px;left:511.00px;">4</div><div class="t" style="top:549.19px;font-size:11.2px;line-height:11.2px;letter-spacing:1.3px;left:511.00px;">2</div><div class="t" style="top:585.31px;font-size:11.2px;line-height:11.2px;letter-spacing:1.3px;left:511.00px;">0</div><div class="t" style="top:621.43px;font-size:11.2px;line-height:11.2px;letter-spacing:1.3px;left:511.00px;"><span class="mi">&minus;</span>2</div><div class="t" style="top:657.56px;font-size:11.2px;line-height:11.2px;letter-spacing:1.3px;left:511.00px;"><span class="mi">&minus;</span>4</div><div class="t rot" style="left:540.80px;top:595.10px;font-size:11.6px;letter-spacing:0.5px;">RF<span style="letter-spacing:2.5px"> </span>Q<sub class="s2">Vz</sub></div>
<svg width="553" height="720" viewBox="0 0 553 720"><rect x="41.5" y="18.5" width="156" height="175" fill="none" stroke="#5e5e5e" stroke-width="1"/><path d="M41.50 192.8v2.2M41.50 19.2v-2.2M51.25 192.8v1.6M51.25 19.2v-1.6M61.00 192.8v1.6M61.00 19.2v-1.6M70.75 192.8v1.6M70.75 19.2v-1.6M80.50 192.8v2.2M80.50 19.2v-2.2M90.25 192.8v1.6M90.25 19.2v-1.6M100.00 192.8v1.6M100.00 19.2v-1.6M109.75 192.8v1.6M109.75 19.2v-1.6M119.50 192.8v2.2M119.50 19.2v-2.2M129.25 192.8v1.6M129.25 19.2v-1.6M139.00 192.8v1.6M139.00 19.2v-1.6M148.75 192.8v1.6M148.75 19.2v-1.6M158.50 192.8v2.2M158.50 19.2v-2.2M168.25 192.8v1.6M168.25 19.2v-1.6M178.00 192.8v1.6M178.00 19.2v-1.6M187.75 192.8v1.6M187.75 19.2v-1.6M197.50 192.8v2.2M197.50 19.2v-2.2M42.2 193.50h-2.2M196.8 193.50h2.2M42.2 190.32h-1.5M196.8 190.32h1.5M42.2 187.14h-1.5M196.8 187.14h1.5M42.2 183.95h-1.5M196.8 183.95h1.5M42.2 180.77h-1.5M196.8 180.77h1.5M42.2 177.59h-1.5M196.8 177.59h1.5M42.2 174.41h-1.5M196.8 174.41h1.5M42.2 171.23h-1.5M196.8 171.23h1.5M42.2 168.05h-1.5M196.8 168.05h1.5M42.2 164.86h-1.5M196.8 164.86h1.5M42.2 161.68h-2.2M196.8 161.68h2.2M42.2 158.50h-1.5M196.8 158.50h1.5M42.2 155.32h-1.5M196.8 155.32h1.5M42.2 152.14h-1.5M196.8 152.14h1.5M42.2 148.95h-1.5M196.8 148.95h1.5M42.2 145.77h-1.5M196.8 145.77h1.5M42.2 142.59h-1.5M196.8 142.59h1.5M42.2 139.41h-1.5M196.8 139.41h1.5M42.2 136.23h-1.5M196.8 136.23h1.5M42.2 133.05h-1.5M196.8 133.05h1.5M42.2 129.86h-2.2M196.8 129.86h2.2M42.2 126.68h-1.5M196.8 126.68h1.5M42.2 123.50h-1.5M196.8 123.50h1.5M42.2 120.32h-1.5M196.8 120.32h1.5M42.2 117.14h-1.5M196.8 117.14h1.5M42.2 113.95h-1.5M196.8 113.95h1.5M42.2 110.77h-1.5M196.8 110.77h1.5M42.2 107.59h-1.5M196.8 107.59h1.5M42.2 104.41h-1.5M196.8 104.41h1.5M42.2 101.23h-1.5M196.8 101.23h1.5M42.2 98.05h-2.2M196.8 98.05h2.2M42.2 94.86h-1.5M196.8 94.86h1.5M42.2 91.68h-1.5M196.8 91.68h1.5M42.2 88.50h-1.5M196.8 88.50h1.5M42.2 85.32h-1.5M196.8 85.32h1.5M42.2 82.14h-1.5M196.8 82.14h1.5M42.2 78.95h-1.5M196.8 78.95h1.5M42.2 75.77h-1.5M196.8 75.77h1.5M42.2 72.59h-1.5M196.8 72.59h1.5M42.2 69.41h-1.5M196.8 69.41h1.5M42.2 66.23h-2.2M196.8 66.23h2.2M42.2 63.05h-1.5M196.8 63.05h1.5M42.2 59.86h-1.5M196.8 59.86h1.5M42.2 56.68h-1.5M196.8 56.68h1.5M42.2 53.50h-1.5M196.8 53.50h1.5M42.2 50.32h-1.5M196.8 50.32h1.5M42.2 47.14h-1.5M196.8 47.14h1.5M42.2 43.95h-1.5M196.8 43.95h1.5M42.2 40.77h-1.5M196.8 40.77h1.5M42.2 37.59h-1.5M196.8 37.59h1.5M42.2 34.41h-2.2M196.8 34.41h2.2M42.2 31.23h-1.5M196.8 31.23h1.5M42.2 28.05h-1.5M196.8 28.05h1.5M42.2 24.86h-1.5M196.8 24.86h1.5M42.2 21.68h-1.5M196.8 21.68h1.5M42.2 18.50h-1.5M196.8 18.50h1.5" stroke="#222" stroke-width="0.9"/><rect x="203.5" y="18.5" width="13" height="175" fill="none" stroke="#5e5e5e" stroke-width="1"/><path d="M215.8 188.31h1.5" stroke="#222" stroke-width="0.9"/><path d="M215.8 181.90h1.5" stroke="#222" stroke-width="0.9"/><path d="M215.8 175.48h1.5" stroke="#222" stroke-width="0.9"/><path d="M215.8 169.07h1.5" stroke="#222" stroke-width="0.9"/><path d="M215.8 162.65h1.5" stroke="#222" stroke-width="0.9"/><path d="M215.8 156.24h1.5" stroke="#222" stroke-width="0.9"/><path d="M215.8 149.82h1.5" stroke="#222" stroke-width="0.9"/><path d="M215.8 143.40h1.5" stroke="#222" stroke-width="0.9"/><path d="M215.8 136.99h1.5" stroke="#222" stroke-width="0.9"/><path d="M215.8 130.57h1.5" stroke="#222" stroke-width="0.9"/><path d="M215.8 124.16h1.5" stroke="#222" stroke-width="0.9"/><path d="M215.8 117.74h1.5" stroke="#222" stroke-width="0.9"/><path d="M215.8 111.33h1.5" stroke="#222" stroke-width="0.9"/><path d="M215.8 104.91h1.5" stroke="#222" stroke-width="0.9"/><path d="M215.8 98.50h1.5" stroke="#222" stroke-width="0.9"/><path d="M215.8 92.08h1.5" stroke="#222" stroke-width="0.9"/><path d="M215.8 85.67h1.5" stroke="#222" stroke-width="0.9"/><path d="M215.8 79.25h1.5" stroke="#222" stroke-width="0.9"/><path d="M215.8 72.84h1.5" stroke="#222" stroke-width="0.9"/><path d="M215.8 66.42h1.5" stroke="#222" stroke-width="0.9"/><path d="M215.8 60.01h1.5" stroke="#222" stroke-width="0.9"/><path d="M215.8 53.59h1.5" stroke="#222" stroke-width="0.9"/><path d="M215.8 47.18h1.5" stroke="#222" stroke-width="0.9"/><path d="M215.8 40.76h1.5" stroke="#222" stroke-width="0.9"/><path d="M215.8 34.35h1.5" stroke="#222" stroke-width="0.9"/><path d="M215.8 27.93h1.5" stroke="#222" stroke-width="0.9"/><path d="M215.8 21.52h1.5" stroke="#222" stroke-width="0.9"/><path d="M215.8 21.52h2.2" stroke="#222" stroke-width="0.9"/><path d="M215.8 53.59h2.2" stroke="#222" stroke-width="0.9"/><path d="M215.8 85.67h2.2" stroke="#222" stroke-width="0.9"/><path d="M215.8 117.74h2.2" stroke="#222" stroke-width="0.9"/><path d="M215.8 149.82h2.2" stroke="#222" stroke-width="0.9"/><path d="M215.8 181.90h2.2" stroke="#222" stroke-width="0.9"/><rect x="330.5" y="18.5" width="156" height="175" fill="none" stroke="#5e5e5e" stroke-width="1"/><path d="M330.50 192.8v2.2M330.50 19.2v-2.2M340.25 192.8v1.6M340.25 19.2v-1.6M350.00 192.8v1.6M350.00 19.2v-1.6M359.75 192.8v1.6M359.75 19.2v-1.6M369.50 192.8v2.2M369.50 19.2v-2.2M379.25 192.8v1.6M379.25 19.2v-1.6M389.00 192.8v1.6M389.00 19.2v-1.6M398.75 192.8v1.6M398.75 19.2v-1.6M408.50 192.8v2.2M408.50 19.2v-2.2M418.25 192.8v1.6M418.25 19.2v-1.6M428.00 192.8v1.6M428.00 19.2v-1.6M437.75 192.8v1.6M437.75 19.2v-1.6M447.50 192.8v2.2M447.50 19.2v-2.2M457.25 192.8v1.6M457.25 19.2v-1.6M467.00 192.8v1.6M467.00 19.2v-1.6M476.75 192.8v1.6M476.75 19.2v-1.6M486.50 192.8v2.2M486.50 19.2v-2.2M331.2 193.50h-2.2M485.8 193.50h2.2M331.2 190.32h-1.5M485.8 190.32h1.5M331.2 187.14h-1.5M485.8 187.14h1.5M331.2 183.95h-1.5M485.8 183.95h1.5M331.2 180.77h-1.5M485.8 180.77h1.5M331.2 177.59h-1.5M485.8 177.59h1.5M331.2 174.41h-1.5M485.8 174.41h1.5M331.2 171.23h-1.5M485.8 171.23h1.5M331.2 168.05h-1.5M485.8 168.05h1.5M331.2 164.86h-1.5M485.8 164.86h1.5M331.2 161.68h-2.2M485.8 161.68h2.2M331.2 158.50h-1.5M485.8 158.50h1.5M331.2 155.32h-1.5M485.8 155.32h1.5M331.2 152.14h-1.5M485.8 152.14h1.5M331.2 148.95h-1.5M485.8 148.95h1.5M331.2 145.77h-1.5M485.8 145.77h1.5M331.2 142.59h-1.5M485.8 142.59h1.5M331.2 139.41h-1.5M485.8 139.41h1.5M331.2 136.23h-1.5M485.8 136.23h1.5M331.2 133.05h-1.5M485.8 133.05h1.5M331.2 129.86h-2.2M485.8 129.86h2.2M331.2 126.68h-1.5M485.8 126.68h1.5M331.2 123.50h-1.5M485.8 123.50h1.5M331.2 120.32h-1.5M485.8 120.32h1.5M331.2 117.14h-1.5M485.8 117.14h1.5M331.2 113.95h-1.5M485.8 113.95h1.5M331.2 110.77h-1.5M485.8 110.77h1.5M331.2 107.59h-1.5M485.8 107.59h1.5M331.2 104.41h-1.5M485.8 104.41h1.5M331.2 101.23h-1.5M485.8 101.23h1.5M331.2 98.05h-2.2M485.8 98.05h2.2M331.2 94.86h-1.5M485.8 94.86h1.5M331.2 91.68h-1.5M485.8 91.68h1.5M331.2 88.50h-1.5M485.8 88.50h1.5M331.2 85.32h-1.5M485.8 85.32h1.5M331.2 82.14h-1.5M485.8 82.14h1.5M331.2 78.95h-1.5M485.8 78.95h1.5M331.2 75.77h-1.5M485.8 75.77h1.5M331.2 72.59h-1.5M485.8 72.59h1.5M331.2 69.41h-1.5M485.8 69.41h1.5M331.2 66.23h-2.2M485.8 66.23h2.2M331.2 63.05h-1.5M485.8 63.05h1.5M331.2 59.86h-1.5M485.8 59.86h1.5M331.2 56.68h-1.5M485.8 56.68h1.5M331.2 53.50h-1.5M485.8 53.50h1.5M331.2 50.32h-1.5M485.8 50.32h1.5M331.2 47.14h-1.5M485.8 47.14h1.5M331.2 43.95h-1.5M485.8 43.95h1.5M331.2 40.77h-1.5M485.8 40.77h1.5M331.2 37.59h-1.5M485.8 37.59h1.5M331.2 34.41h-2.2M485.8 34.41h2.2M331.2 31.23h-1.5M485.8 31.23h1.5M331.2 28.05h-1.5M485.8 28.05h1.5M331.2 24.86h-1.5M485.8 24.86h1.5M331.2 21.68h-1.5M485.8 21.68h1.5M331.2 18.50h-1.5M485.8 18.50h1.5" stroke="#222" stroke-width="0.9"/><rect x="492.5" y="18.5" width="13" height="175" fill="none" stroke="#5e5e5e" stroke-width="1"/><path d="M504.8 189.42h1.5" stroke="#222" stroke-width="0.9"/><path d="M504.8 177.51h1.5" stroke="#222" stroke-width="0.9"/><path d="M504.8 165.61h1.5" stroke="#222" stroke-width="0.9"/><path d="M504.8 153.71h1.5" stroke="#222" stroke-width="0.9"/><path d="M504.8 141.81h1.5" stroke="#222" stroke-width="0.9"/><path d="M504.8 129.90h1.5" stroke="#222" stroke-width="0.9"/><path d="M504.8 118.00h1.5" stroke="#222" stroke-width="0.9"/><path d="M504.8 106.10h1.5" stroke="#222" stroke-width="0.9"/><path d="M504.8 94.20h1.5" stroke="#222" stroke-width="0.9"/><path d="M504.8 82.30h1.5" stroke="#222" stroke-width="0.9"/><path d="M504.8 70.39h1.5" stroke="#222" stroke-width="0.9"/><path d="M504.8 58.49h1.5" stroke="#222" stroke-width="0.9"/><path d="M504.8 46.59h1.5" stroke="#222" stroke-width="0.9"/><path d="M504.8 34.69h1.5" stroke="#222" stroke-width="0.9"/><path d="M504.8 22.78h1.5" stroke="#222" stroke-width="0.9"/><path d="M504.8 46.59h2.2" stroke="#222" stroke-width="0.9"/><path d="M504.8 94.20h2.2" stroke="#222" stroke-width="0.9"/><path d="M504.8 141.81h2.2" stroke="#222" stroke-width="0.9"/><path d="M504.8 189.42h2.2" stroke="#222" stroke-width="0.9"/><rect x="41.5" y="262.5" width="156" height="175" fill="none" stroke="#5e5e5e" stroke-width="1"/><path d="M41.50 436.8v2.2M41.50 263.2v-2.2M51.25 436.8v1.6M51.25 263.2v-1.6M61.00 436.8v1.6M61.00 263.2v-1.6M70.75 436.8v1.6M70.75 263.2v-1.6M80.50 436.8v2.2M80.50 263.2v-2.2M90.25 436.8v1.6M90.25 263.2v-1.6M100.00 436.8v1.6M100.00 263.2v-1.6M109.75 436.8v1.6M109.75 263.2v-1.6M119.50 436.8v2.2M119.50 263.2v-2.2M129.25 436.8v1.6M129.25 263.2v-1.6M139.00 436.8v1.6M139.00 263.2v-1.6M148.75 436.8v1.6M148.75 263.2v-1.6M158.50 436.8v2.2M158.50 263.2v-2.2M168.25 436.8v1.6M168.25 263.2v-1.6M178.00 436.8v1.6M178.00 263.2v-1.6M187.75 436.8v1.6M187.75 263.2v-1.6M197.50 436.8v2.2M197.50 263.2v-2.2M42.2 437.50h-2.2M196.8 437.50h2.2M42.2 434.32h-1.5M196.8 434.32h1.5M42.2 431.14h-1.5M196.8 431.14h1.5M42.2 427.95h-1.5M196.8 427.95h1.5M42.2 424.77h-1.5M196.8 424.77h1.5M42.2 421.59h-1.5M196.8 421.59h1.5M42.2 418.41h-1.5M196.8 418.41h1.5M42.2 415.23h-1.5M196.8 415.23h1.5M42.2 412.05h-1.5M196.8 412.05h1.5M42.2 408.86h-1.5M196.8 408.86h1.5M42.2 405.68h-2.2M196.8 405.68h2.2M42.2 402.50h-1.5M196.8 402.50h1.5M42.2 399.32h-1.5M196.8 399.32h1.5M42.2 396.14h-1.5M196.8 396.14h1.5M42.2 392.95h-1.5M196.8 392.95h1.5M42.2 389.77h-1.5M196.8 389.77h1.5M42.2 386.59h-1.5M196.8 386.59h1.5M42.2 383.41h-1.5M196.8 383.41h1.5M42.2 380.23h-1.5M196.8 380.23h1.5M42.2 377.05h-1.5M196.8 377.05h1.5M42.2 373.86h-2.2M196.8 373.86h2.2M42.2 370.68h-1.5M196.8 370.68h1.5M42.2 367.50h-1.5M196.8 367.50h1.5M42.2 364.32h-1.5M196.8 364.32h1.5M42.2 361.14h-1.5M196.8 361.14h1.5M42.2 357.95h-1.5M196.8 357.95h1.5M42.2 354.77h-1.5M196.8 354.77h1.5M42.2 351.59h-1.5M196.8 351.59h1.5M42.2 348.41h-1.5M196.8 348.41h1.5M42.2 345.23h-1.5M196.8 345.23h1.5M42.2 342.05h-2.2M196.8 342.05h2.2M42.2 338.86h-1.5M196.8 338.86h1.5M42.2 335.68h-1.5M196.8 335.68h1.5M42.2 332.50h-1.5M196.8 332.50h1.5M42.2 329.32h-1.5M196.8 329.32h1.5M42.2 326.14h-1.5M196.8 326.14h1.5M42.2 322.95h-1.5M196.8 322.95h1.5M42.2 319.77h-1.5M196.8 319.77h1.5M42.2 316.59h-1.5M196.8 316.59h1.5M42.2 313.41h-1.5M196.8 313.41h1.5M42.2 310.23h-2.2M196.8 310.23h2.2M42.2 307.05h-1.5M196.8 307.05h1.5M42.2 303.86h-1.5M196.8 303.86h1.5M42.2 300.68h-1.5M196.8 300.68h1.5M42.2 297.50h-1.5M196.8 297.50h1.5M42.2 294.32h-1.5M196.8 294.32h1.5M42.2 291.14h-1.5M196.8 291.14h1.5M42.2 287.95h-1.5M196.8 287.95h1.5M42.2 284.77h-1.5M196.8 284.77h1.5M42.2 281.59h-1.5M196.8 281.59h1.5M42.2 278.41h-2.2M196.8 278.41h2.2M42.2 275.23h-1.5M196.8 275.23h1.5M42.2 272.05h-1.5M196.8 272.05h1.5M42.2 268.86h-1.5M196.8 268.86h1.5M42.2 265.68h-1.5M196.8 265.68h1.5M42.2 262.50h-1.5M196.8 262.50h1.5" stroke="#222" stroke-width="0.9"/><rect x="203.5" y="262.5" width="13" height="175" fill="none" stroke="#5e5e5e" stroke-width="1"/><path d="M215.8 434.36h1.5" stroke="#222" stroke-width="0.9"/><path d="M215.8 428.29h1.5" stroke="#222" stroke-width="0.9"/><path d="M215.8 422.21h1.5" stroke="#222" stroke-width="0.9"/><path d="M215.8 416.14h1.5" stroke="#222" stroke-width="0.9"/><path d="M215.8 410.07h1.5" stroke="#222" stroke-width="0.9"/><path d="M215.8 404.00h1.5" stroke="#222" stroke-width="0.9"/><path d="M215.8 397.92h1.5" stroke="#222" stroke-width="0.9"/><path d="M215.8 391.85h1.5" stroke="#222" stroke-width="0.9"/><path d="M215.8 385.78h1.5" stroke="#222" stroke-width="0.9"/><path d="M215.8 379.70h1.5" stroke="#222" stroke-width="0.9"/><path d="M215.8 373.63h1.5" stroke="#222" stroke-width="0.9"/><path d="M215.8 367.56h1.5" stroke="#222" stroke-width="0.9"/><path d="M215.8 361.49h1.5" stroke="#222" stroke-width="0.9"/><path d="M215.8 355.41h1.5" stroke="#222" stroke-width="0.9"/><path d="M215.8 349.34h1.5" stroke="#222" stroke-width="0.9"/><path d="M215.8 343.27h1.5" stroke="#222" stroke-width="0.9"/><path d="M215.8 337.20h1.5" stroke="#222" stroke-width="0.9"/><path d="M215.8 331.12h1.5" stroke="#222" stroke-width="0.9"/><path d="M215.8 325.05h1.5" stroke="#222" stroke-width="0.9"/><path d="M215.8 318.98h1.5" stroke="#222" stroke-width="0.9"/><path d="M215.8 312.90h1.5" stroke="#222" stroke-width="0.9"/><path d="M215.8 306.83h1.5" stroke="#222" stroke-width="0.9"/><path d="M215.8 300.76h1.5" stroke="#222" stroke-width="0.9"/><path d="M215.8 294.69h1.5" stroke="#222" stroke-width="0.9"/><path d="M215.8 288.61h1.5" stroke="#222" stroke-width="0.9"/><path d="M215.8 282.54h1.5" stroke="#222" stroke-width="0.9"/><path d="M215.8 276.47h1.5" stroke="#222" stroke-width="0.9"/><path d="M215.8 270.39h1.5" stroke="#222" stroke-width="0.9"/><path d="M215.8 264.32h1.5" stroke="#222" stroke-width="0.9"/><path d="M215.8 270.39h2.2" stroke="#222" stroke-width="0.9"/><path d="M215.8 300.76h2.2" stroke="#222" stroke-width="0.9"/><path d="M215.8 331.12h2.2" stroke="#222" stroke-width="0.9"/><path d="M215.8 361.49h2.2" stroke="#222" stroke-width="0.9"/><path d="M215.8 391.85h2.2" stroke="#222" stroke-width="0.9"/><path d="M215.8 422.21h2.2" stroke="#222" stroke-width="0.9"/><rect x="330.5" y="262.5" width="156" height="175" fill="none" stroke="#5e5e5e" stroke-width="1"/><path d="M330.50 436.8v2.2M330.50 263.2v-2.2M340.25 436.8v1.6M340.25 263.2v-1.6M350.00 436.8v1.6M350.00 263.2v-1.6M359.75 436.8v1.6M359.75 263.2v-1.6M369.50 436.8v2.2M369.50 263.2v-2.2M379.25 436.8v1.6M379.25 263.2v-1.6M389.00 436.8v1.6M389.00 263.2v-1.6M398.75 436.8v1.6M398.75 263.2v-1.6M408.50 436.8v2.2M408.50 263.2v-2.2M418.25 436.8v1.6M418.25 263.2v-1.6M428.00 436.8v1.6M428.00 263.2v-1.6M437.75 436.8v1.6M437.75 263.2v-1.6M447.50 436.8v2.2M447.50 263.2v-2.2M457.25 436.8v1.6M457.25 263.2v-1.6M467.00 436.8v1.6M467.00 263.2v-1.6M476.75 436.8v1.6M476.75 263.2v-1.6M486.50 436.8v2.2M486.50 263.2v-2.2M331.2 437.50h-2.2M485.8 437.50h2.2M331.2 434.32h-1.5M485.8 434.32h1.5M331.2 431.14h-1.5M485.8 431.14h1.5M331.2 427.95h-1.5M485.8 427.95h1.5M331.2 424.77h-1.5M485.8 424.77h1.5M331.2 421.59h-1.5M485.8 421.59h1.5M331.2 418.41h-1.5M485.8 418.41h1.5M331.2 415.23h-1.5M485.8 415.23h1.5M331.2 412.05h-1.5M485.8 412.05h1.5M331.2 408.86h-1.5M485.8 408.86h1.5M331.2 405.68h-2.2M485.8 405.68h2.2M331.2 402.50h-1.5M485.8 402.50h1.5M331.2 399.32h-1.5M485.8 399.32h1.5M331.2 396.14h-1.5M485.8 396.14h1.5M331.2 392.95h-1.5M485.8 392.95h1.5M331.2 389.77h-1.5M485.8 389.77h1.5M331.2 386.59h-1.5M485.8 386.59h1.5M331.2 383.41h-1.5M485.8 383.41h1.5M331.2 380.23h-1.5M485.8 380.23h1.5M331.2 377.05h-1.5M485.8 377.05h1.5M331.2 373.86h-2.2M485.8 373.86h2.2M331.2 370.68h-1.5M485.8 370.68h1.5M331.2 367.50h-1.5M485.8 367.50h1.5M331.2 364.32h-1.5M485.8 364.32h1.5M331.2 361.14h-1.5M485.8 361.14h1.5M331.2 357.95h-1.5M485.8 357.95h1.5M331.2 354.77h-1.5M485.8 354.77h1.5M331.2 351.59h-1.5M485.8 351.59h1.5M331.2 348.41h-1.5M485.8 348.41h1.5M331.2 345.23h-1.5M485.8 345.23h1.5M331.2 342.05h-2.2M485.8 342.05h2.2M331.2 338.86h-1.5M485.8 338.86h1.5M331.2 335.68h-1.5M485.8 335.68h1.5M331.2 332.50h-1.5M485.8 332.50h1.5M331.2 329.32h-1.5M485.8 329.32h1.5M331.2 326.14h-1.5M485.8 326.14h1.5M331.2 322.95h-1.5M485.8 322.95h1.5M331.2 319.77h-1.5M485.8 319.77h1.5M331.2 316.59h-1.5M485.8 316.59h1.5M331.2 313.41h-1.5M485.8 313.41h1.5M331.2 310.23h-2.2M485.8 310.23h2.2M331.2 307.05h-1.5M485.8 307.05h1.5M331.2 303.86h-1.5M485.8 303.86h1.5M331.2 300.68h-1.5M485.8 300.68h1.5M331.2 297.50h-1.5M485.8 297.50h1.5M331.2 294.32h-1.5M485.8 294.32h1.5M331.2 291.14h-1.5M485.8 291.14h1.5M331.2 287.95h-1.5M485.8 287.95h1.5M331.2 284.77h-1.5M485.8 284.77h1.5M331.2 281.59h-1.5M485.8 281.59h1.5M331.2 278.41h-2.2M485.8 278.41h2.2M331.2 275.23h-1.5M485.8 275.23h1.5M331.2 272.05h-1.5M485.8 272.05h1.5M331.2 268.86h-1.5M485.8 268.86h1.5M331.2 265.68h-1.5M485.8 265.68h1.5M331.2 262.50h-1.5M485.8 262.50h1.5" stroke="#222" stroke-width="0.9"/><rect x="492.5" y="262.5" width="13" height="175" fill="none" stroke="#5e5e5e" stroke-width="1"/><path d="M504.8 434.30h1.5" stroke="#222" stroke-width="0.9"/><path d="M504.8 427.51h1.5" stroke="#222" stroke-width="0.9"/><path d="M504.8 420.72h1.5" stroke="#222" stroke-width="0.9"/><path d="M504.8 413.93h1.5" stroke="#222" stroke-width="0.9"/><path d="M504.8 407.14h1.5" stroke="#222" stroke-width="0.9"/><path d="M504.8 400.35h1.5" stroke="#222" stroke-width="0.9"/><path d="M504.8 393.56h1.5" stroke="#222" stroke-width="0.9"/><path d="M504.8 386.77h1.5" stroke="#222" stroke-width="0.9"/><path d="M504.8 379.98h1.5" stroke="#222" stroke-width="0.9"/><path d="M504.8 373.19h1.5" stroke="#222" stroke-width="0.9"/><path d="M504.8 366.40h1.5" stroke="#222" stroke-width="0.9"/><path d="M504.8 359.61h1.5" stroke="#222" stroke-width="0.9"/><path d="M504.8 352.82h1.5" stroke="#222" stroke-width="0.9"/><path d="M504.8 346.03h1.5" stroke="#222" stroke-width="0.9"/><path d="M504.8 339.23h1.5" stroke="#222" stroke-width="0.9"/><path d="M504.8 332.44h1.5" stroke="#222" stroke-width="0.9"/><path d="M504.8 325.65h1.5" stroke="#222" stroke-width="0.9"/><path d="M504.8 318.86h1.5" stroke="#222" stroke-width="0.9"/><path d="M504.8 312.07h1.5" stroke="#222" stroke-width="0.9"/><path d="M504.8 305.28h1.5" stroke="#222" stroke-width="0.9"/><path d="M504.8 298.49h1.5" stroke="#222" stroke-width="0.9"/><path d="M504.8 291.70h1.5" stroke="#222" stroke-width="0.9"/><path d="M504.8 284.91h1.5" stroke="#222" stroke-width="0.9"/><path d="M504.8 278.12h1.5" stroke="#222" stroke-width="0.9"/><path d="M504.8 271.33h1.5" stroke="#222" stroke-width="0.9"/><path d="M504.8 264.54h1.5" stroke="#222" stroke-width="0.9"/><path d="M504.8 284.91h2.2" stroke="#222" stroke-width="0.9"/><path d="M504.8 318.86h2.2" stroke="#222" stroke-width="0.9"/><path d="M504.8 352.82h2.2" stroke="#222" stroke-width="0.9"/><path d="M504.8 386.77h2.2" stroke="#222" stroke-width="0.9"/><path d="M504.8 420.72h2.2" stroke="#222" stroke-width="0.9"/><rect x="41.5" y="507.5" width="156" height="175" fill="none" stroke="#5e5e5e" stroke-width="1"/><path d="M41.50 681.8v2.2M41.50 508.2v-2.2M51.25 681.8v1.6M51.25 508.2v-1.6M61.00 681.8v1.6M61.00 508.2v-1.6M70.75 681.8v1.6M70.75 508.2v-1.6M80.50 681.8v2.2M80.50 508.2v-2.2M90.25 681.8v1.6M90.25 508.2v-1.6M100.00 681.8v1.6M100.00 508.2v-1.6M109.75 681.8v1.6M109.75 508.2v-1.6M119.50 681.8v2.2M119.50 508.2v-2.2M129.25 681.8v1.6M129.25 508.2v-1.6M139.00 681.8v1.6M139.00 508.2v-1.6M148.75 681.8v1.6M148.75 508.2v-1.6M158.50 681.8v2.2M158.50 508.2v-2.2M168.25 681.8v1.6M168.25 508.2v-1.6M178.00 681.8v1.6M178.00 508.2v-1.6M187.75 681.8v1.6M187.75 508.2v-1.6M197.50 681.8v2.2M197.50 508.2v-2.2M42.2 682.50h-2.2M196.8 682.50h2.2M42.2 679.32h-1.5M196.8 679.32h1.5M42.2 676.14h-1.5M196.8 676.14h1.5M42.2 672.95h-1.5M196.8 672.95h1.5M42.2 669.77h-1.5M196.8 669.77h1.5M42.2 666.59h-1.5M196.8 666.59h1.5M42.2 663.41h-1.5M196.8 663.41h1.5M42.2 660.23h-1.5M196.8 660.23h1.5M42.2 657.05h-1.5M196.8 657.05h1.5M42.2 653.86h-1.5M196.8 653.86h1.5M42.2 650.68h-2.2M196.8 650.68h2.2M42.2 647.50h-1.5M196.8 647.50h1.5M42.2 644.32h-1.5M196.8 644.32h1.5M42.2 641.14h-1.5M196.8 641.14h1.5M42.2 637.95h-1.5M196.8 637.95h1.5M42.2 634.77h-1.5M196.8 634.77h1.5M42.2 631.59h-1.5M196.8 631.59h1.5M42.2 628.41h-1.5M196.8 628.41h1.5M42.2 625.23h-1.5M196.8 625.23h1.5M42.2 622.05h-1.5M196.8 622.05h1.5M42.2 618.86h-2.2M196.8 618.86h2.2M42.2 615.68h-1.5M196.8 615.68h1.5M42.2 612.50h-1.5M196.8 612.50h1.5M42.2 609.32h-1.5M196.8 609.32h1.5M42.2 606.14h-1.5M196.8 606.14h1.5M42.2 602.95h-1.5M196.8 602.95h1.5M42.2 599.77h-1.5M196.8 599.77h1.5M42.2 596.59h-1.5M196.8 596.59h1.5M42.2 593.41h-1.5M196.8 593.41h1.5M42.2 590.23h-1.5M196.8 590.23h1.5M42.2 587.05h-2.2M196.8 587.05h2.2M42.2 583.86h-1.5M196.8 583.86h1.5M42.2 580.68h-1.5M196.8 580.68h1.5M42.2 577.50h-1.5M196.8 577.50h1.5M42.2 574.32h-1.5M196.8 574.32h1.5M42.2 571.14h-1.5M196.8 571.14h1.5M42.2 567.95h-1.5M196.8 567.95h1.5M42.2 564.77h-1.5M196.8 564.77h1.5M42.2 561.59h-1.5M196.8 561.59h1.5M42.2 558.41h-1.5M196.8 558.41h1.5M42.2 555.23h-2.2M196.8 555.23h2.2M42.2 552.05h-1.5M196.8 552.05h1.5M42.2 548.86h-1.5M196.8 548.86h1.5M42.2 545.68h-1.5M196.8 545.68h1.5M42.2 542.50h-1.5M196.8 542.50h1.5M42.2 539.32h-1.5M196.8 539.32h1.5M42.2 536.14h-1.5M196.8 536.14h1.5M42.2 532.95h-1.5M196.8 532.95h1.5M42.2 529.77h-1.5M196.8 529.77h1.5M42.2 526.59h-1.5M196.8 526.59h1.5M42.2 523.41h-2.2M196.8 523.41h2.2M42.2 520.23h-1.5M196.8 520.23h1.5M42.2 517.05h-1.5M196.8 517.05h1.5M42.2 513.86h-1.5M196.8 513.86h1.5M42.2 510.68h-1.5M196.8 510.68h1.5M42.2 507.50h-1.5M196.8 507.50h1.5" stroke="#222" stroke-width="0.9"/><rect x="203.5" y="507.5" width="13" height="175" fill="none" stroke="#5e5e5e" stroke-width="1"/><path d="M215.8 679.44h1.5" stroke="#222" stroke-width="0.9"/><path d="M215.8 673.41h1.5" stroke="#222" stroke-width="0.9"/><path d="M215.8 667.37h1.5" stroke="#222" stroke-width="0.9"/><path d="M215.8 661.34h1.5" stroke="#222" stroke-width="0.9"/><path d="M215.8 655.30h1.5" stroke="#222" stroke-width="0.9"/><path d="M215.8 649.27h1.5" stroke="#222" stroke-width="0.9"/><path d="M215.8 643.23h1.5" stroke="#222" stroke-width="0.9"/><path d="M215.8 637.20h1.5" stroke="#222" stroke-width="0.9"/><path d="M215.8 631.16h1.5" stroke="#222" stroke-width="0.9"/><path d="M215.8 625.12h1.5" stroke="#222" stroke-width="0.9"/><path d="M215.8 619.09h1.5" stroke="#222" stroke-width="0.9"/><path d="M215.8 613.05h1.5" stroke="#222" stroke-width="0.9"/><path d="M215.8 607.02h1.5" stroke="#222" stroke-width="0.9"/><path d="M215.8 600.98h1.5" stroke="#222" stroke-width="0.9"/><path d="M215.8 594.95h1.5" stroke="#222" stroke-width="0.9"/><path d="M215.8 588.91h1.5" stroke="#222" stroke-width="0.9"/><path d="M215.8 582.88h1.5" stroke="#222" stroke-width="0.9"/><path d="M215.8 576.84h1.5" stroke="#222" stroke-width="0.9"/><path d="M215.8 570.81h1.5" stroke="#222" stroke-width="0.9"/><path d="M215.8 564.77h1.5" stroke="#222" stroke-width="0.9"/><path d="M215.8 558.74h1.5" stroke="#222" stroke-width="0.9"/><path d="M215.8 552.70h1.5" stroke="#222" stroke-width="0.9"/><path d="M215.8 546.67h1.5" stroke="#222" stroke-width="0.9"/><path d="M215.8 540.63h1.5" stroke="#222" stroke-width="0.9"/><path d="M215.8 534.60h1.5" stroke="#222" stroke-width="0.9"/><path d="M215.8 528.56h1.5" stroke="#222" stroke-width="0.9"/><path d="M215.8 522.53h1.5" stroke="#222" stroke-width="0.9"/><path d="M215.8 516.49h1.5" stroke="#222" stroke-width="0.9"/><path d="M215.8 510.46h1.5" stroke="#222" stroke-width="0.9"/><path d="M215.8 534.60h2.2" stroke="#222" stroke-width="0.9"/><path d="M215.8 564.77h2.2" stroke="#222" stroke-width="0.9"/><path d="M215.8 594.95h2.2" stroke="#222" stroke-width="0.9"/><path d="M215.8 625.12h2.2" stroke="#222" stroke-width="0.9"/><path d="M215.8 655.30h2.2" stroke="#222" stroke-width="0.9"/><rect x="330.5" y="507.5" width="156" height="175" fill="none" stroke="#5e5e5e" stroke-width="1"/><path d="M330.50 681.8v2.2M330.50 508.2v-2.2M340.25 681.8v1.6M340.25 508.2v-1.6M350.00 681.8v1.6M350.00 508.2v-1.6M359.75 681.8v1.6M359.75 508.2v-1.6M369.50 681.8v2.2M369.50 508.2v-2.2M379.25 681.8v1.6M379.25 508.2v-1.6M389.00 681.8v1.6M389.00 508.2v-1.6M398.75 681.8v1.6M398.75 508.2v-1.6M408.50 681.8v2.2M408.50 508.2v-2.2M418.25 681.8v1.6M418.25 508.2v-1.6M428.00 681.8v1.6M428.00 508.2v-1.6M437.75 681.8v1.6M437.75 508.2v-1.6M447.50 681.8v2.2M447.50 508.2v-2.2M457.25 681.8v1.6M457.25 508.2v-1.6M467.00 681.8v1.6M467.00 508.2v-1.6M476.75 681.8v1.6M476.75 508.2v-1.6M486.50 681.8v2.2M486.50 508.2v-2.2M331.2 682.50h-2.2M485.8 682.50h2.2M331.2 679.32h-1.5M485.8 679.32h1.5M331.2 676.14h-1.5M485.8 676.14h1.5M331.2 672.95h-1.5M485.8 672.95h1.5M331.2 669.77h-1.5M485.8 669.77h1.5M331.2 666.59h-1.5M485.8 666.59h1.5M331.2 663.41h-1.5M485.8 663.41h1.5M331.2 660.23h-1.5M485.8 660.23h1.5M331.2 657.05h-1.5M485.8 657.05h1.5M331.2 653.86h-1.5M485.8 653.86h1.5M331.2 650.68h-2.2M485.8 650.68h2.2M331.2 647.50h-1.5M485.8 647.50h1.5M331.2 644.32h-1.5M485.8 644.32h1.5M331.2 641.14h-1.5M485.8 641.14h1.5M331.2 637.95h-1.5M485.8 637.95h1.5M331.2 634.77h-1.5M485.8 634.77h1.5M331.2 631.59h-1.5M485.8 631.59h1.5M331.2 628.41h-1.5M485.8 628.41h1.5M331.2 625.23h-1.5M485.8 625.23h1.5M331.2 622.05h-1.5M485.8 622.05h1.5M331.2 618.86h-2.2M485.8 618.86h2.2M331.2 615.68h-1.5M485.8 615.68h1.5M331.2 612.50h-1.5M485.8 612.50h1.5M331.2 609.32h-1.5M485.8 609.32h1.5M331.2 606.14h-1.5M485.8 606.14h1.5M331.2 602.95h-1.5M485.8 602.95h1.5M331.2 599.77h-1.5M485.8 599.77h1.5M331.2 596.59h-1.5M485.8 596.59h1.5M331.2 593.41h-1.5M485.8 593.41h1.5M331.2 590.23h-1.5M485.8 590.23h1.5M331.2 587.05h-2.2M485.8 587.05h2.2M331.2 583.86h-1.5M485.8 583.86h1.5M331.2 580.68h-1.5M485.8 580.68h1.5M331.2 577.50h-1.5M485.8 577.50h1.5M331.2 574.32h-1.5M485.8 574.32h1.5M331.2 571.14h-1.5M485.8 571.14h1.5M331.2 567.95h-1.5M485.8 567.95h1.5M331.2 564.77h-1.5M485.8 564.77h1.5M331.2 561.59h-1.5M485.8 561.59h1.5M331.2 558.41h-1.5M485.8 558.41h1.5M331.2 555.23h-2.2M485.8 555.23h2.2M331.2 552.05h-1.5M485.8 552.05h1.5M331.2 548.86h-1.5M485.8 548.86h1.5M331.2 545.68h-1.5M485.8 545.68h1.5M331.2 542.50h-1.5M485.8 542.50h1.5M331.2 539.32h-1.5M485.8 539.32h1.5M331.2 536.14h-1.5M485.8 536.14h1.5M331.2 532.95h-1.5M485.8 532.95h1.5M331.2 529.77h-1.5M485.8 529.77h1.5M331.2 526.59h-1.5M485.8 526.59h1.5M331.2 523.41h-2.2M485.8 523.41h2.2M331.2 520.23h-1.5M485.8 520.23h1.5M331.2 517.05h-1.5M485.8 517.05h1.5M331.2 513.86h-1.5M485.8 513.86h1.5M331.2 510.68h-1.5M485.8 510.68h1.5M331.2 507.50h-1.5M485.8 507.50h1.5" stroke="#222" stroke-width="0.9"/><rect x="492.5" y="507.5" width="13" height="175" fill="none" stroke="#5e5e5e" stroke-width="1"/><path d="M504.8 679.99h1.5" stroke="#222" stroke-width="0.9"/><path d="M504.8 670.96h1.5" stroke="#222" stroke-width="0.9"/><path d="M504.8 661.93h1.5" stroke="#222" stroke-width="0.9"/><path d="M504.8 652.90h1.5" stroke="#222" stroke-width="0.9"/><path d="M504.8 643.87h1.5" stroke="#222" stroke-width="0.9"/><path d="M504.8 634.84h1.5" stroke="#222" stroke-width="0.9"/><path d="M504.8 625.81h1.5" stroke="#222" stroke-width="0.9"/><path d="M504.8 616.77h1.5" stroke="#222" stroke-width="0.9"/><path d="M504.8 607.74h1.5" stroke="#222" stroke-width="0.9"/><path d="M504.8 598.71h1.5" stroke="#222" stroke-width="0.9"/><path d="M504.8 589.68h1.5" stroke="#222" stroke-width="0.9"/><path d="M504.8 580.65h1.5" stroke="#222" stroke-width="0.9"/><path d="M504.8 571.62h1.5" stroke="#222" stroke-width="0.9"/><path d="M504.8 562.59h1.5" stroke="#222" stroke-width="0.9"/><path d="M504.8 553.56h1.5" stroke="#222" stroke-width="0.9"/><path d="M504.8 544.53h1.5" stroke="#222" stroke-width="0.9"/><path d="M504.8 535.50h1.5" stroke="#222" stroke-width="0.9"/><path d="M504.8 526.46h1.5" stroke="#222" stroke-width="0.9"/><path d="M504.8 517.43h1.5" stroke="#222" stroke-width="0.9"/><path d="M504.8 508.40h1.5" stroke="#222" stroke-width="0.9"/><path d="M504.8 517.43h2.2" stroke="#222" stroke-width="0.9"/><path d="M504.8 553.56h2.2" stroke="#222" stroke-width="0.9"/><path d="M504.8 589.68h2.2" stroke="#222" stroke-width="0.9"/><path d="M504.8 625.81h2.2" stroke="#222" stroke-width="0.9"/><path d="M504.8 661.93h2.2" stroke="#222" stroke-width="0.9"/></svg>
</div>
<script>
var CM=[[0,0,0,0],[0.022,15,0,25],[0.055,55,0,90],[0.105,90,0,155],[0.16,75,0,205],[0.235,0,0,255],[0.397,0,255,255],[0.575,0,255,0],[0.747,255,255,0],[0.918,255,0,0],[1.0,255,0,0]];
function cmap(f){if(f<=0)return CM[0].slice(1);if(f>=1)return [255,0,0];
for(var i=1;i<CM.length;i++){if(f<=CM[i][0]){var a=CM[i-1],b=CM[i],t=(f-a[0])/(b[0]-a[0]);return [a[1]+(b[1]-a[1])*t,a[2]+(b[2]-a[2])*t,a[3]+(b[3]-a[3])*t];}}return [255,0,0];}
/* blob: [x,y,sx,sy,rotDeg,amp,p,m,sy2,m2] absolute image coords; p=profile exponent, m=shape norm (upper), sy2/m2 lower half */
var PAN=[{x:42,y:19,w:155,h:174,lo:-16.84,hi:10.47,wd:[[118,104,2,1]],b:[[118.8,80,11.44,9.3,0,-13,6,2,9.7,3.5],[118.6,79.9,3.65,3.1,0,-4,2],[119,104.3,7.6,8,0,10.3,3,2,8.4,2],[119,117,5,5,0,1.5,2],[105,61,7.5,13,-38,-1.4,2],[133,61,7.5,13,38,-1.4,2],[119,52,6,5,0,0.6,2],[102,150,8,24,24,1.3,2],[136,150,8,24,-24,1.3,2],[119,146,5,20,0,-1.3,2],[119,124,7,6,0,1,2]]},
{x:331,y:19,w:155,h:174,lo:-4.18,hi:3.18,wd:[[413,91,2,1]],b:[[413.7,66.5,5,3,0,-0.35,2],[414,74.5,7,2,0,0.4,2],[413.9,81.1,5,2.35,0,-2.8,4],[414.4,90,6.8,3.4,0,3.3,8],[413.5,102.7,6.6,5.2,0,-3.5,4],[413.4,102.6,2.2,1.8,0,-0.75,2],[413.5,128,5.5,11,0,0.75,2],[413.5,150,4,14,0,0.3,2],[403,66,6,12,-40,0.25,2],[424,66,6,12,40,0.25,2]]},
{x:42,y:263,w:155,h:174,lo:-3.51,hi:2.26,wd:[[118,366,2,3]],b:[[118.8,335,6.2,10.6,0,-2.72,6,2,11.8,2],[118.8,335.2,2,3.8,0,-0.84,2],[107.2,345.4,3,7.5,0,1.45,3],[131.5,345.4,3,7.5,0,1.45,3],[119.2,367.5,5.9,11,0,2.2,4,2,16.5,2],[119.2,392,4.4,12,0,0.9,2],[91.5,345.3,4.2,17,-16,-0.92,2.5],[146.6,345.3,4.2,17,16,-0.92,2.5],[94,352,11,32,-17,-0.5,2],[144,352,11,32,17,-0.5,2],[112,313.8,5,4,0,0.28,2],[126.1,313.8,5,4,0,0.28,2],[119.2,412,4,12,0,0.3,2]]},
{x:331,y:263,w:155,h:174,lo:-1.25,hi:1.33,wd:[[413,344,2,2]],b:[[414.4,316.7,6,2.5,0,-0.22,2],[415.1,323.6,6,2.5,0,0.3,2],[414,333.6,7.3,4.4,0,-0.93,6,2,4.6,3.5],[414,333.2,3,1.5,0,-0.3,2],[414.2,346.3,5.2,5,0,1.38,2.2],[413.3,372,4.5,13,0,-0.88,3],[413.3,398,3.6,11,0,-0.35,2],[393,358,5,24,-17,0.22,2],[434,353,5,24,17,0.22,2]]},
{x:42,y:508,w:155,h:174,lo:-29.08,hi:28.98,wd:[[113,589,2,1]],b:[[111.8,569.4,4.4,8.3,12,-22.5,3],[109,578,2.5,4,30,-8,2],[126.4,568.5,4.1,8,0,21,3],[113.8,589.8,3.3,8.8,8,29.5,3],[125.1,590,4.9,11,-10,-20.5,6],[124.9,589.5,1.7,3.3,-10,-8.3,2],[130.5,605,2.8,10,-18,-5,2],[113.8,635,2.2,20,0,-8,2],[123.5,628,2.5,13,0,6,2],[98,590,6,24,-20,6.5,2],[141,593,5,22,20,-7,2]]},
{x:331,y:508,w:155,h:174,lo:-5.15,hi:4.55,wd:[[418,592,2,1]],b:[[411.7,567.5,5,3,0,-0.8,2],[409.6,578.5,3.6,3.3,0,4.2,3],[419.6,580,4.2,3.6,0,-3.6,3],[408.8,591.5,4.1,7.4,20,-4.9,3],[409,590.3,1.8,2.5,20,-0.6,2],[418.6,593.4,4,5.2,0,4.6,3],[408.7,613,3.5,12,6,4.4,2.5],[407,632,3,10,6,1.8,2],[418.4,625,3.9,15,0,-3.2,2.2],[418.4,647,3.3,10,0,-1.2,2],[391,615,5,25,-15,-0.8,2],[433.6,608,5,25,15,0.8,2]]}];
function drawPanel(k){var P=PAN[k],cv=document.getElementById('c'+k);if(!cv||!cv.getContext)return;
var ctx=cv.getContext('2d'),im=ctx.createImageData(P.w,P.h),d=im.data,B=P.b;
var pre=B.map(function(b){var r=b[4]*Math.PI/180;return {x:b[0],y:b[1],ix:1/b[2],iy:1/b[3],c:Math.cos(r),s:Math.sin(r),a:b[5],hp:(b[6]||2)/2,m:b[7]||2,iy2:1/(b[8]||b[3]),m2:b[9]||b[7]||2};});
for(var j=0;j<P.h;j++){var Y=P.y+j+0.5;for(var i=0;i<P.w;i++){var X=P.x+i+0.5,v=0;
for(var n=0;n<pre.length;n++){var q=pre[n],dx=X-q.x,dy=Y-q.y,u=(dx*q.c+dy*q.s)*q.ix,w0=(-dx*q.s+dy*q.c),w,m,s;
if(w0>0){w=w0*q.iy2;m=q.m2;}else{w=w0*q.iy;m=q.m;}
if(m==2)s=u*u+w*w;else s=Math.pow(Math.pow(Math.abs(u),m)+Math.pow(Math.abs(w),m),2/m);
if(s<80)v+=q.a*Math.exp(-0.5*Math.pow(s,q.hp));}
var f=(v-P.lo)/(P.hi-P.lo),c=cmap(f),o=(j*P.w+i)*4;d[o]=c[0];d[o+1]=c[1];d[o+2]=c[2];d[o+3]=255;}}
ctx.putImageData(im,0,0);
ctx.fillStyle='#fff';for(var n=0;n<P.wd.length;n++){var r=P.wd[n];ctx.fillRect(r[0]-P.x,r[1]-P.y,r[2],r[3]);}}
for(var k=0;k<PAN.length;k++)drawPanel(k);

</script>
</body></html>
